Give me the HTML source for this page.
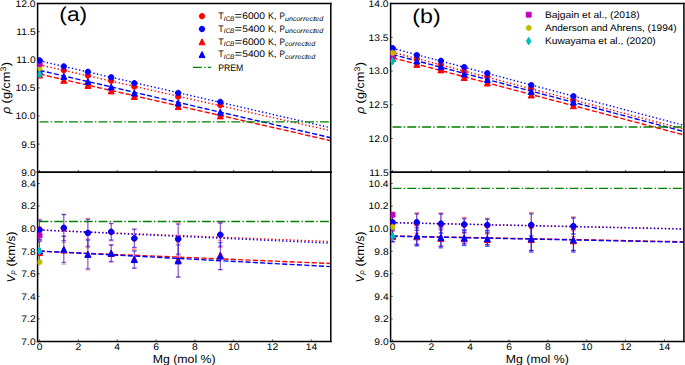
<!DOCTYPE html><html><head><meta charset="utf-8"><style>html,body{margin:0;padding:0;background:#fff;overflow:hidden}svg{display:block}text{text-rendering:geometricPrecision}</style></head><body><svg width="685" height="365" viewBox="0 0 685 365" version="1.1"><defs><style type="text/css">*{stroke-linejoin: round; stroke-linecap: butt}</style></defs><g id="figure_1"><g id="patch_1"><path d="M 0 365  L 685 365  L 685 0  L 0 0  z " style="fill: #ffffff" /></g><g id="axes_1"><g id="patch_2"><path d="M 37.6 172.2  L 330.8 172.2  L 330.8 3.6  L 37.6 3.6  z " style="fill: #ffffff" /></g><g id="line2d_1"><path d="M 39.541722 64.87  L 330.8 130.71  " clip-path="url(#pd544d221bb)" style="fill: none; stroke-dasharray: 1.389,2.29185; stroke-dashoffset: 0; stroke: #ff0000; stroke-width: 1.389" /></g><g id="line2d_2"><path d="M 39.541722 60.83  L 330.8 127.79  " clip-path="url(#pd544d221bb)" style="fill: none; stroke-dasharray: 1.389,2.29185; stroke-dashoffset: 0; stroke: #0000ff; stroke-width: 1.389" /></g><g id="line2d_3"><path d="M 39.541722 74.1  L 330.8 140.7  " clip-path="url(#pd544d221bb)" style="fill: none; stroke-dasharray: 5.1393,2.2224; stroke-dashoffset: 0; stroke: #ff0000; stroke-width: 1.389" /></g><g id="line2d_4"><path d="M 39.541722 70.35  L 330.8 137.72  " clip-path="url(#pd544d221bb)" style="fill: none; stroke-dasharray: 5.1393,2.2224; stroke-dashoffset: 0; stroke: #0000ff; stroke-width: 1.389" /></g><g id="line2d_5"><path d="M 39.541722 121.9  L 330.8 121.9  " clip-path="url(#pd544d221bb)" style="fill: none; stroke-dasharray: 8.9088,2.2272,1.392,2.2272; stroke-dashoffset: 0; stroke: #008000; stroke-width: 1.389" /></g><g id="matplotlib.axis_1"><g id="xtick_1"><g id="line2d_6"><defs><path id="mb3065abcdf" d="M 0 0  L 0 -2.2  " style="stroke: #000000; stroke-width: 0.6" /></defs><g><use href="#mb3065abcdf" x="39.541722" y="172.2" style="stroke: #000000; stroke-width: 0.6" /></g></g></g><g id="xtick_2"><g id="line2d_7"><g><use href="#mb3065abcdf" x="78.376159" y="172.2" style="stroke: #000000; stroke-width: 0.6" /></g></g></g><g id="xtick_3"><g id="line2d_8"><g><use href="#mb3065abcdf" x="117.210596" y="172.2" style="stroke: #000000; stroke-width: 0.6" /></g></g></g><g id="xtick_4"><g id="line2d_9"><g><use href="#mb3065abcdf" x="156.045033" y="172.2" style="stroke: #000000; stroke-width: 0.6" /></g></g></g><g id="xtick_5"><g id="line2d_10"><g><use href="#mb3065abcdf" x="194.87947" y="172.2" style="stroke: #000000; stroke-width: 0.6" /></g></g></g><g id="xtick_6"><g id="line2d_11"><g><use href="#mb3065abcdf" x="233.713907" y="172.2" style="stroke: #000000; stroke-width: 0.6" /></g></g></g><g id="xtick_7"><g id="line2d_12"><g><use href="#mb3065abcdf" x="272.548344" y="172.2" style="stroke: #000000; stroke-width: 0.6" /></g></g></g><g id="xtick_8"><g id="line2d_13"><g><use href="#mb3065abcdf" x="311.382781" y="172.2" style="stroke: #000000; stroke-width: 0.6" /></g></g></g></g><g id="matplotlib.axis_2"><g id="ytick_1"><g id="line2d_14"><defs><path id="m58079cd67e" d="M 0 0  L 2.2 0  " style="stroke: #000000; stroke-width: 0.6" /></defs><g><use href="#m58079cd67e" x="37.6" y="172.2" style="stroke: #000000; stroke-width: 0.6" /></g></g><g id="text_1"><text style="font-size: 9.54px; font-family: 'Liberation Sans', sans-serif; text-anchor: end" transform="translate(35.6 175.619) scale(1.0793 1)">9.0</text></g></g><g id="ytick_2"><g id="line2d_15"><g><use href="#m58079cd67e" x="37.6" y="144.1" style="stroke: #000000; stroke-width: 0.6" /></g></g><g id="text_2"><text style="font-size: 9.54px; font-family: 'Liberation Sans', sans-serif; text-anchor: end" transform="translate(35.6 147.519) scale(1.0793 1)">9.5</text></g></g><g id="ytick_3"><g id="line2d_16"><g><use href="#m58079cd67e" x="37.6" y="116" style="stroke: #000000; stroke-width: 0.6" /></g></g><g id="text_3"><text style="font-size: 9.54px; font-family: 'Liberation Sans', sans-serif; text-anchor: end" transform="translate(35.6 119.419) scale(1.0792 1)">10.0</text></g></g><g id="ytick_4"><g id="line2d_17"><g><use href="#m58079cd67e" x="37.6" y="87.9" style="stroke: #000000; stroke-width: 0.6" /></g></g><g id="text_4"><text style="font-size: 9.54px; font-family: 'Liberation Sans', sans-serif; text-anchor: end" transform="translate(35.6 91.319) scale(1.0792 1)">10.5</text></g></g><g id="ytick_5"><g id="line2d_18"><g><use href="#m58079cd67e" x="37.6" y="59.8" style="stroke: #000000; stroke-width: 0.6" /></g></g><g id="text_5"><text style="font-size: 9.54px; font-family: 'Liberation Sans', sans-serif; text-anchor: end" transform="translate(35.6 63.219) scale(1.0792 1)">11.0</text></g></g><g id="ytick_6"><g id="line2d_19"><g><use href="#m58079cd67e" x="37.6" y="31.7" style="stroke: #000000; stroke-width: 0.6" /></g></g><g id="text_6"><text style="font-size: 9.54px; font-family: 'Liberation Sans', sans-serif; text-anchor: end" transform="translate(35.6 35.119) scale(1.0792 1)">11.5</text></g></g><g id="ytick_7"><g id="line2d_20"><g><use href="#m58079cd67e" x="37.6" y="3.6" style="stroke: #000000; stroke-width: 0.6" /></g></g><g id="text_7"><text style="font-size: 9.54px; font-family: 'Liberation Sans', sans-serif; text-anchor: end" transform="translate(35.6 7.019) scale(1.0792 1)">12.0</text></g></g></g><g id="patch_3"><path d="M 37.6 172.2  L 37.6 3.6  " style="fill: none; stroke: #000000; stroke-width: 1.5; stroke-linejoin: miter; stroke-linecap: square" /></g><g id="patch_4"><path d="M 330.8 172.2  L 330.8 3.6  " style="fill: none; stroke: #000000; stroke-width: 1.5; stroke-linejoin: miter; stroke-linecap: square" /></g><g id="patch_5"><path d="M 37.6 172.2  L 330.8 172.2  " style="fill: none; stroke: #000000; stroke-width: 1.5; stroke-linejoin: miter; stroke-linecap: square" /></g><g id="patch_6"><path d="M 37.6 3.6  L 330.8 3.6  " style="fill: none; stroke: #000000; stroke-width: 1.5; stroke-linejoin: miter; stroke-linecap: square" /></g><g id="line2d_21"><defs><path id="m8ee4669264" d="M 0 2.7  C 0.716048 2.7 1.402866 2.415511 1.909188 1.909188  C 2.415511 1.402866 2.7 0.716048 2.7 0  C 2.7 -0.716048 2.415511 -1.402866 1.909188 -1.909188  C 1.402866 -2.415511 0.716048 -2.7 0 -2.7  C -0.716048 -2.7 -1.402866 -2.415511 -1.909188 -1.909188  C -2.415511 -1.402866 -2.7 -0.716048 -2.7 0  C -2.7 0.716048 -2.415511 1.402866 -1.909188 1.909188  C -1.402866 2.415511 -0.716048 2.7 0 2.7  z " style="stroke: #ff0000" /></defs><g clip-path="url(#pd544d221bb)"><use href="#m8ee4669264" x="39.541722" y="64.9" style="fill: #ff0000; stroke: #ff0000" /><use href="#m8ee4669264" x="63.813245" y="70.3" style="fill: #ff0000; stroke: #ff0000" /><use href="#m8ee4669264" x="87.890596" y="75.6" style="fill: #ff0000; stroke: #ff0000" /><use href="#m8ee4669264" x="111.191258" y="80.8" style="fill: #ff0000; stroke: #ff0000" /><use href="#m8ee4669264" x="134.297748" y="86.7" style="fill: #ff0000; stroke: #ff0000" /><use href="#m8ee4669264" x="178.180662" y="96.7" style="fill: #ff0000; stroke: #ff0000" /><use href="#m8ee4669264" x="220.316026" y="105.3" style="fill: #ff0000; stroke: #ff0000" /></g></g><g id="line2d_22"><defs><path id="m0883bbb580" d="M 0 2.7  C 0.716048 2.7 1.402866 2.415511 1.909188 1.909188  C 2.415511 1.402866 2.7 0.716048 2.7 0  C 2.7 -0.716048 2.415511 -1.402866 1.909188 -1.909188  C 1.402866 -2.415511 0.716048 -2.7 0 -2.7  C -0.716048 -2.7 -1.402866 -2.415511 -1.909188 -1.909188  C -2.415511 -1.402866 -2.7 -0.716048 -2.7 0  C -2.7 0.716048 -2.415511 1.402866 -1.909188 1.909188  C -1.402866 2.415511 -0.716048 2.7 0 2.7  z " style="stroke: #0000ff" /></defs><g clip-path="url(#pd544d221bb)"><use href="#m0883bbb580" x="39.541722" y="60.6" style="fill: #0000ff; stroke: #0000ff" /><use href="#m0883bbb580" x="63.813245" y="66.4" style="fill: #0000ff; stroke: #0000ff" /><use href="#m0883bbb580" x="87.890596" y="71.8" style="fill: #0000ff; stroke: #0000ff" /><use href="#m0883bbb580" x="111.191258" y="77.3" style="fill: #0000ff; stroke: #0000ff" /><use href="#m0883bbb580" x="134.297748" y="83.2" style="fill: #0000ff; stroke: #0000ff" /><use href="#m0883bbb580" x="178.180662" y="93" style="fill: #0000ff; stroke: #0000ff" /><use href="#m0883bbb580" x="220.316026" y="101.9" style="fill: #0000ff; stroke: #0000ff" /></g></g><g id="line2d_23"><defs><path id="m24482ff531" d="M 0 -3  L -3 3  L 3 3  z " style="stroke: #ff0000; stroke-linejoin: miter" /></defs><g clip-path="url(#pd544d221bb)"><use href="#m24482ff531" x="39.541722" y="75" style="fill: #ff0000; stroke: #ff0000; stroke-linejoin: miter" /><use href="#m24482ff531" x="63.813245" y="80.3" style="fill: #ff0000; stroke: #ff0000; stroke-linejoin: miter" /><use href="#m24482ff531" x="87.890596" y="85.4" style="fill: #ff0000; stroke: #ff0000; stroke-linejoin: miter" /><use href="#m24482ff531" x="111.191258" y="90.9" style="fill: #ff0000; stroke: #ff0000; stroke-linejoin: miter" /><use href="#m24482ff531" x="134.297748" y="96.5" style="fill: #ff0000; stroke: #ff0000; stroke-linejoin: miter" /><use href="#m24482ff531" x="178.180662" y="106.6" style="fill: #ff0000; stroke: #ff0000; stroke-linejoin: miter" /><use href="#m24482ff531" x="220.316026" y="115.9" style="fill: #ff0000; stroke: #ff0000; stroke-linejoin: miter" /></g></g><g id="line2d_24"><defs><path id="m69e9f570c5" d="M 0 -3  L -3 3  L 3 3  z " style="stroke: #0000ff; stroke-linejoin: miter" /></defs><g clip-path="url(#pd544d221bb)"><use href="#m69e9f570c5" x="39.541722" y="70.7" style="fill: #0000ff; stroke: #0000ff; stroke-linejoin: miter" /><use href="#m69e9f570c5" x="63.813245" y="76.3" style="fill: #0000ff; stroke: #0000ff; stroke-linejoin: miter" /><use href="#m69e9f570c5" x="87.890596" y="81.6" style="fill: #0000ff; stroke: #0000ff; stroke-linejoin: miter" /><use href="#m69e9f570c5" x="111.191258" y="86.9" style="fill: #0000ff; stroke: #0000ff; stroke-linejoin: miter" /><use href="#m69e9f570c5" x="134.297748" y="93" style="fill: #0000ff; stroke: #0000ff; stroke-linejoin: miter" /><use href="#m69e9f570c5" x="178.180662" y="103" style="fill: #0000ff; stroke: #0000ff; stroke-linejoin: miter" /><use href="#m69e9f570c5" x="220.316026" y="112.2" style="fill: #0000ff; stroke: #0000ff; stroke-linejoin: miter" /></g></g><g id="text_8"><text style="font-size: 20px; font-family: 'Liberation Sans', sans-serif; text-anchor: start" transform="translate(59.297 20.82) scale(1.1398 1)">(a)</text></g><g id="line2d_25"><defs><path id="m0906c53ca1" d="M -0 3.818377  L 2.291026 0  L 0 -3.818377  L -2.291026 -0  z " style="stroke: #00bfbf; stroke-linejoin: miter" /></defs><g clip-path="url(#pd544d221bb)"><use href="#m0906c53ca1" x="39.541722" y="74.5" style="fill: #00bfbf; stroke: #00bfbf; stroke-linejoin: miter" /></g></g><g id="line2d_26"><defs><path id="mf86fa5f61f" d="M 0 -2.7  L -2.338269 -1.35  L -2.338269 1.35  L -0 2.7  L 2.338269 1.35  L 2.338269 -1.35  z " style="stroke: #bfbf00; stroke-linejoin: miter" /></defs><g clip-path="url(#pd544d221bb)"><use href="#mf86fa5f61f" x="39.541722" y="68.5" style="fill: #bfbf00; stroke: #bfbf00; stroke-linejoin: miter" /></g></g><g id="line2d_27"><defs><path id="m8acf0847f7" d="M -2.45 2.45  L 2.45 2.45  L 2.45 -2.45  L -2.45 -2.45  z " style="stroke: #bf00bf; stroke-linejoin: miter" /></defs><g clip-path="url(#pd544d221bb)"><use href="#m8acf0847f7" x="39.541722" y="64" style="fill: #bf00bf; stroke: #bf00bf; stroke-linejoin: miter" /></g></g><g id="line2d_28"><g clip-path="url(#pd544d221bb)"><use href="#m0883bbb580" x="39.541722" y="60.6" style="fill: #0000ff; stroke: #0000ff" /></g></g><g id="legend_1"><g id="line2d_29"><g><use href="#m8ee4669264" x="202" y="16.188594" style="fill: #ff0000; stroke: #ff0000" /></g></g><g id="text_9"><g transform="translate(218.2 19.338594)"><text style="font-size: 9.54px; font-family: 'Liberation Sans', sans-serif" transform="translate(0 -0.312) scale(0.9434 1)">T</text><text style="font-size: 9.54px; font-family: 'Liberation Sans', sans-serif" transform="translate(16.409 -0.312) scale(1.3536 1)">=</text><text style="font-size: 9.54px; font-family: 'Liberation Sans', sans-serif" transform="translate(23.95 -0.312) scale(1.0792 1)">6</text><text style="font-size: 9.54px; font-family: 'Liberation Sans', sans-serif" transform="translate(29.676 -0.312) scale(1.0792 1)">0</text><text style="font-size: 9.54px; font-family: 'Liberation Sans', sans-serif" transform="translate(35.402 -0.312) scale(1.0792 1)">0</text><text style="font-size: 9.54px; font-family: 'Liberation Sans', sans-serif" transform="translate(41.128 -0.312) scale(1.0792 1)">0</text><text style="font-size: 9.54px; font-family: 'Liberation Sans', sans-serif" transform="translate(49.715 -0.312) scale(0.9275 1)">K</text><text style="font-size: 9.54px; font-family: 'Liberation Sans', sans-serif" transform="translate(55.617 -0.312) scale(1.0794 1)">,</text><text style="font-size: 9.54px; font-family: 'Liberation Sans', sans-serif" transform="translate(61.338 -0.312) scale(0.8529 1)">P</text><text style="font-size: 6.678px; font-family: 'Liberation Sans', sans-serif; font-style: italic" transform="translate(5.584 1.164) scale(1.0014 1)">I</text><text style="font-size: 6.678px; font-family: 'Liberation Sans', sans-serif; font-style: italic" transform="translate(7.442 1.164) scale(0.9121 1)">C</text><text style="font-size: 6.678px; font-family: 'Liberation Sans', sans-serif; font-style: italic" transform="translate(11.841 1.164) scale(0.9703 1)">B</text><text style="font-size: 6.678px; font-family: 'Liberation Sans', sans-serif; font-style: italic" transform="translate(66.852 1.164) scale(1.0751 1)">u</text><text style="font-size: 6.678px; font-family: 'Liberation Sans', sans-serif; font-style: italic" transform="translate(70.845 1.164) scale(1.0751 1)">n</text><text style="font-size: 6.678px; font-family: 'Liberation Sans', sans-serif; font-style: italic" transform="translate(74.838 1.164) scale(1.0374 1)">c</text><text style="font-size: 6.678px; font-family: 'Liberation Sans', sans-serif; font-style: italic" transform="translate(78.301 1.164) scale(1.0378 1)">o</text><text style="font-size: 6.678px; font-family: 'Liberation Sans', sans-serif; font-style: italic" transform="translate(82.156 1.164) scale(1.1647 1)">r</text><text style="font-size: 6.678px; font-family: 'Liberation Sans', sans-serif; font-style: italic" transform="translate(84.746 1.164) scale(1.1647 1)">r</text><text style="font-size: 6.678px; font-family: 'Liberation Sans', sans-serif; font-style: italic" transform="translate(87.336 1.164) scale(1.0436 1)">e</text><text style="font-size: 6.678px; font-family: 'Liberation Sans', sans-serif; font-style: italic" transform="translate(91.212 1.164) scale(1.0374 1)">c</text><text style="font-size: 6.678px; font-family: 'Liberation Sans', sans-serif; font-style: italic" transform="translate(94.676 1.164) scale(1.3314 1)">t</text><text style="font-size: 6.678px; font-family: 'Liberation Sans', sans-serif; font-style: italic" transform="translate(97.146 1.164) scale(1.0436 1)">e</text><text style="font-size: 6.678px; font-family: 'Liberation Sans', sans-serif; font-style: italic" transform="translate(101.022 1.164) scale(1.0767 1)">d</text></g></g><g id="line2d_30"><g><use href="#m0883bbb580" x="202" y="28.993906" style="fill: #0000ff; stroke: #0000ff" /></g></g><g id="text_10"><g transform="translate(218.2 32.143906)"><text style="font-size: 9.54px; font-family: 'Liberation Sans', sans-serif" transform="translate(0 -0.312) scale(0.9434 1)">T</text><text style="font-size: 9.54px; font-family: 'Liberation Sans', sans-serif" transform="translate(16.409 -0.312) scale(1.3536 1)">=</text><text style="font-size: 9.54px; font-family: 'Liberation Sans', sans-serif" transform="translate(23.95 -0.312) scale(1.0792 1)">5</text><text style="font-size: 9.54px; font-family: 'Liberation Sans', sans-serif" transform="translate(29.676 -0.312) scale(1.0792 1)">4</text><text style="font-size: 9.54px; font-family: 'Liberation Sans', sans-serif" transform="translate(35.402 -0.312) scale(1.0792 1)">0</text><text style="font-size: 9.54px; font-family: 'Liberation Sans', sans-serif" transform="translate(41.128 -0.312) scale(1.0792 1)">0</text><text style="font-size: 9.54px; font-family: 'Liberation Sans', sans-serif" transform="translate(49.715 -0.312) scale(0.9275 1)">K</text><text style="font-size: 9.54px; font-family: 'Liberation Sans', sans-serif" transform="translate(55.617 -0.312) scale(1.0794 1)">,</text><text style="font-size: 9.54px; font-family: 'Liberation Sans', sans-serif" transform="translate(61.338 -0.312) scale(0.8529 1)">P</text><text style="font-size: 6.678px; font-family: 'Liberation Sans', sans-serif; font-style: italic" transform="translate(5.584 1.164) scale(1.0014 1)">I</text><text style="font-size: 6.678px; font-family: 'Liberation Sans', sans-serif; font-style: italic" transform="translate(7.442 1.164) scale(0.9121 1)">C</text><text style="font-size: 6.678px; font-family: 'Liberation Sans', sans-serif; font-style: italic" transform="translate(11.841 1.164) scale(0.9703 1)">B</text><text style="font-size: 6.678px; font-family: 'Liberation Sans', sans-serif; font-style: italic" transform="translate(66.852 1.164) scale(1.0751 1)">u</text><text style="font-size: 6.678px; font-family: 'Liberation Sans', sans-serif; font-style: italic" transform="translate(70.845 1.164) scale(1.0751 1)">n</text><text style="font-size: 6.678px; font-family: 'Liberation Sans', sans-serif; font-style: italic" transform="translate(74.838 1.164) scale(1.0374 1)">c</text><text style="font-size: 6.678px; font-family: 'Liberation Sans', sans-serif; font-style: italic" transform="translate(78.301 1.164) scale(1.0378 1)">o</text><text style="font-size: 6.678px; font-family: 'Liberation Sans', sans-serif; font-style: italic" transform="translate(82.156 1.164) scale(1.1647 1)">r</text><text style="font-size: 6.678px; font-family: 'Liberation Sans', sans-serif; font-style: italic" transform="translate(84.746 1.164) scale(1.1647 1)">r</text><text style="font-size: 6.678px; font-family: 'Liberation Sans', sans-serif; font-style: italic" transform="translate(87.336 1.164) scale(1.0436 1)">e</text><text style="font-size: 6.678px; font-family: 'Liberation Sans', sans-serif; font-style: italic" transform="translate(91.212 1.164) scale(1.0374 1)">c</text><text style="font-size: 6.678px; font-family: 'Liberation Sans', sans-serif; font-style: italic" transform="translate(94.676 1.164) scale(1.3314 1)">t</text><text style="font-size: 6.678px; font-family: 'Liberation Sans', sans-serif; font-style: italic" transform="translate(97.146 1.164) scale(1.0436 1)">e</text><text style="font-size: 6.678px; font-family: 'Liberation Sans', sans-serif; font-style: italic" transform="translate(101.022 1.164) scale(1.0767 1)">d</text></g></g><g id="line2d_31"><g><use href="#m24482ff531" x="202" y="41.799219" style="fill: #ff0000; stroke: #ff0000; stroke-linejoin: miter" /></g></g><g id="text_11"><g transform="translate(218.2 44.949219)"><text style="font-size: 9.54px; font-family: 'Liberation Sans', sans-serif" transform="translate(0 -0.312) scale(0.9434 1)">T</text><text style="font-size: 9.54px; font-family: 'Liberation Sans', sans-serif" transform="translate(16.409 -0.312) scale(1.3536 1)">=</text><text style="font-size: 9.54px; font-family: 'Liberation Sans', sans-serif" transform="translate(23.95 -0.312) scale(1.0792 1)">6</text><text style="font-size: 9.54px; font-family: 'Liberation Sans', sans-serif" transform="translate(29.676 -0.312) scale(1.0792 1)">0</text><text style="font-size: 9.54px; font-family: 'Liberation Sans', sans-serif" transform="translate(35.402 -0.312) scale(1.0792 1)">0</text><text style="font-size: 9.54px; font-family: 'Liberation Sans', sans-serif" transform="translate(41.128 -0.312) scale(1.0792 1)">0</text><text style="font-size: 9.54px; font-family: 'Liberation Sans', sans-serif" transform="translate(49.715 -0.312) scale(0.9275 1)">K</text><text style="font-size: 9.54px; font-family: 'Liberation Sans', sans-serif" transform="translate(55.617 -0.312) scale(1.0794 1)">,</text><text style="font-size: 9.54px; font-family: 'Liberation Sans', sans-serif" transform="translate(61.338 -0.312) scale(0.8529 1)">P</text><text style="font-size: 6.678px; font-family: 'Liberation Sans', sans-serif; font-style: italic" transform="translate(5.584 1.164) scale(1.0014 1)">I</text><text style="font-size: 6.678px; font-family: 'Liberation Sans', sans-serif; font-style: italic" transform="translate(7.442 1.164) scale(0.9121 1)">C</text><text style="font-size: 6.678px; font-family: 'Liberation Sans', sans-serif; font-style: italic" transform="translate(11.841 1.164) scale(0.9703 1)">B</text><text style="font-size: 6.678px; font-family: 'Liberation Sans', sans-serif; font-style: italic" transform="translate(66.852 1.164) scale(1.0374 1)">c</text><text style="font-size: 6.678px; font-family: 'Liberation Sans', sans-serif; font-style: italic" transform="translate(70.316 1.164) scale(1.0378 1)">o</text><text style="font-size: 6.678px; font-family: 'Liberation Sans', sans-serif; font-style: italic" transform="translate(74.17 1.164) scale(1.1647 1)">r</text><text style="font-size: 6.678px; font-family: 'Liberation Sans', sans-serif; font-style: italic" transform="translate(76.76 1.164) scale(1.1647 1)">r</text><text style="font-size: 6.678px; font-family: 'Liberation Sans', sans-serif; font-style: italic" transform="translate(79.35 1.164) scale(1.0436 1)">e</text><text style="font-size: 6.678px; font-family: 'Liberation Sans', sans-serif; font-style: italic" transform="translate(83.226 1.164) scale(1.0374 1)">c</text><text style="font-size: 6.678px; font-family: 'Liberation Sans', sans-serif; font-style: italic" transform="translate(86.69 1.164) scale(1.3314 1)">t</text><text style="font-size: 6.678px; font-family: 'Liberation Sans', sans-serif; font-style: italic" transform="translate(89.16 1.164) scale(1.0436 1)">e</text><text style="font-size: 6.678px; font-family: 'Liberation Sans', sans-serif; font-style: italic" transform="translate(93.036 1.164) scale(1.0767 1)">d</text></g></g><g id="line2d_32"><g><use href="#m69e9f570c5" x="202" y="54.604531" style="fill: #0000ff; stroke: #0000ff; stroke-linejoin: miter" /></g></g><g id="text_12"><g transform="translate(218.2 57.754531)"><text style="font-size: 9.54px; font-family: 'Liberation Sans', sans-serif" transform="translate(0 -0.312) scale(0.9434 1)">T</text><text style="font-size: 9.54px; font-family: 'Liberation Sans', sans-serif" transform="translate(16.409 -0.312) scale(1.3536 1)">=</text><text style="font-size: 9.54px; font-family: 'Liberation Sans', sans-serif" transform="translate(23.95 -0.312) scale(1.0792 1)">5</text><text style="font-size: 9.54px; font-family: 'Liberation Sans', sans-serif" transform="translate(29.676 -0.312) scale(1.0792 1)">4</text><text style="font-size: 9.54px; font-family: 'Liberation Sans', sans-serif" transform="translate(35.402 -0.312) scale(1.0792 1)">0</text><text style="font-size: 9.54px; font-family: 'Liberation Sans', sans-serif" transform="translate(41.128 -0.312) scale(1.0792 1)">0</text><text style="font-size: 9.54px; font-family: 'Liberation Sans', sans-serif" transform="translate(49.715 -0.312) scale(0.9275 1)">K</text><text style="font-size: 9.54px; font-family: 'Liberation Sans', sans-serif" transform="translate(55.617 -0.312) scale(1.0794 1)">,</text><text style="font-size: 9.54px; font-family: 'Liberation Sans', sans-serif" transform="translate(61.338 -0.312) scale(0.8529 1)">P</text><text style="font-size: 6.678px; font-family: 'Liberation Sans', sans-serif; font-style: italic" transform="translate(5.584 1.164) scale(1.0014 1)">I</text><text style="font-size: 6.678px; font-family: 'Liberation Sans', sans-serif; font-style: italic" transform="translate(7.442 1.164) scale(0.9121 1)">C</text><text style="font-size: 6.678px; font-family: 'Liberation Sans', sans-serif; font-style: italic" transform="translate(11.841 1.164) scale(0.9703 1)">B</text><text style="font-size: 6.678px; font-family: 'Liberation Sans', sans-serif; font-style: italic" transform="translate(66.852 1.164) scale(1.0374 1)">c</text><text style="font-size: 6.678px; font-family: 'Liberation Sans', sans-serif; font-style: italic" transform="translate(70.316 1.164) scale(1.0378 1)">o</text><text style="font-size: 6.678px; font-family: 'Liberation Sans', sans-serif; font-style: italic" transform="translate(74.17 1.164) scale(1.1647 1)">r</text><text style="font-size: 6.678px; font-family: 'Liberation Sans', sans-serif; font-style: italic" transform="translate(76.76 1.164) scale(1.1647 1)">r</text><text style="font-size: 6.678px; font-family: 'Liberation Sans', sans-serif; font-style: italic" transform="translate(79.35 1.164) scale(1.0436 1)">e</text><text style="font-size: 6.678px; font-family: 'Liberation Sans', sans-serif; font-style: italic" transform="translate(83.226 1.164) scale(1.0374 1)">c</text><text style="font-size: 6.678px; font-family: 'Liberation Sans', sans-serif; font-style: italic" transform="translate(86.69 1.164) scale(1.3314 1)">t</text><text style="font-size: 6.678px; font-family: 'Liberation Sans', sans-serif; font-style: italic" transform="translate(89.16 1.164) scale(1.0436 1)">e</text><text style="font-size: 6.678px; font-family: 'Liberation Sans', sans-serif; font-style: italic" transform="translate(93.036 1.164) scale(1.0767 1)">d</text></g></g><g id="line2d_33"><path d="M 193 67.409844  L 202 67.409844  L 211 67.409844  " style="fill: none; stroke-dasharray: 8.9088,2.2272,1.392,2.2272; stroke-dashoffset: 0; stroke: #008000; stroke-width: 1.389" /></g><g id="text_13"><text style="font-size: 9.54px; font-family: 'Liberation Sans', sans-serif; text-anchor: start" transform="translate(218.2 70.56) scale(0.9118 1)">PREM</text></g></g></g><g id="axes_2"><g id="patch_7"><path d="M 37.6 341.5  L 330.8 341.5  L 330.8 172.2  L 37.6 172.2  z " style="fill: #ffffff" /></g><g id="line2d_34"><path d="M 39.541722 230  L 330.8 241.6  " clip-path="url(#p66002b4148)" style="fill: none; stroke-dasharray: 1.389,2.29185; stroke-dashoffset: 0; stroke: #ff0000; stroke-width: 1.389" /></g><g id="line2d_35"><path d="M 39.541722 230  L 330.8 243.2  " clip-path="url(#p66002b4148)" style="fill: none; stroke-dasharray: 1.389,2.29185; stroke-dashoffset: 0; stroke: #0000ff; stroke-width: 1.389" /></g><g id="line2d_36"><path d="M 39.541722 251.3  L 330.8 263.5  " clip-path="url(#p66002b4148)" style="fill: none; stroke-dasharray: 5.1393,2.2224; stroke-dashoffset: 0; stroke: #ff0000; stroke-width: 1.389" /></g><g id="line2d_37"><path d="M 39.541722 251  L 330.8 266.6  " clip-path="url(#p66002b4148)" style="fill: none; stroke-dasharray: 5.1393,2.2224; stroke-dashoffset: 0; stroke: #0000ff; stroke-width: 1.389" /></g><g id="line2d_38"><path d="M 39.541722 221.5  L 330.8 221.5  " clip-path="url(#p66002b4148)" style="fill: none; stroke-dasharray: 8.9088,2.2272,1.392,2.2272; stroke-dashoffset: 0; stroke: #008000; stroke-width: 1.389" /></g><g id="matplotlib.axis_3"><g id="xtick_9"><g id="line2d_39"><g><use href="#mb3065abcdf" x="39.541722" y="341.5" style="stroke: #000000; stroke-width: 0.6" /></g></g><g id="text_14"><text style="font-size: 9.54px; font-family: 'Liberation Sans', sans-serif; text-anchor: middle" transform="translate(39.542 350.339) scale(1.0792 1)">0</text></g></g><g id="xtick_10"><g id="line2d_40"><g><use href="#mb3065abcdf" x="78.376159" y="341.5" style="stroke: #000000; stroke-width: 0.6" /></g></g><g id="text_15"><text style="font-size: 9.54px; font-family: 'Liberation Sans', sans-serif; text-anchor: middle" transform="translate(78.376 350.339) scale(1.0792 1)">2</text></g></g><g id="xtick_11"><g id="line2d_41"><g><use href="#mb3065abcdf" x="117.210596" y="341.5" style="stroke: #000000; stroke-width: 0.6" /></g></g><g id="text_16"><text style="font-size: 9.54px; font-family: 'Liberation Sans', sans-serif; text-anchor: middle" transform="translate(117.211 350.339) scale(1.0792 1)">4</text></g></g><g id="xtick_12"><g id="line2d_42"><g><use href="#mb3065abcdf" x="156.045033" y="341.5" style="stroke: #000000; stroke-width: 0.6" /></g></g><g id="text_17"><text style="font-size: 9.54px; font-family: 'Liberation Sans', sans-serif; text-anchor: middle" transform="translate(156.045 350.339) scale(1.0792 1)">6</text></g></g><g id="xtick_13"><g id="line2d_43"><g><use href="#mb3065abcdf" x="194.87947" y="341.5" style="stroke: #000000; stroke-width: 0.6" /></g></g><g id="text_18"><text style="font-size: 9.54px; font-family: 'Liberation Sans', sans-serif; text-anchor: middle" transform="translate(194.879 350.339) scale(1.0792 1)">8</text></g></g><g id="xtick_14"><g id="line2d_44"><g><use href="#mb3065abcdf" x="233.713907" y="341.5" style="stroke: #000000; stroke-width: 0.6" /></g></g><g id="text_19"><text style="font-size: 9.54px; font-family: 'Liberation Sans', sans-serif; text-anchor: middle" transform="translate(233.714 350.339) scale(1.0792 1)">10</text></g></g><g id="xtick_15"><g id="line2d_45"><g><use href="#mb3065abcdf" x="272.548344" y="341.5" style="stroke: #000000; stroke-width: 0.6" /></g></g><g id="text_20"><text style="font-size: 9.54px; font-family: 'Liberation Sans', sans-serif; text-anchor: middle" transform="translate(272.548 350.339) scale(1.0792 1)">12</text></g></g><g id="xtick_16"><g id="line2d_46"><g><use href="#mb3065abcdf" x="311.382781" y="341.5" style="stroke: #000000; stroke-width: 0.6" /></g></g><g id="text_21"><text style="font-size: 9.54px; font-family: 'Liberation Sans', sans-serif; text-anchor: middle" transform="translate(311.383 350.339) scale(1.0792 1)">14</text></g></g><g id="text_22"><text style="font-size: 11.66px; font-family: 'Liberation Sans', sans-serif; text-anchor: middle" transform="translate(184.2 363.269) scale(1.0571 1)">Mg (mol %)</text></g></g><g id="matplotlib.axis_4"><g id="ytick_8"><g id="line2d_47"><g><use href="#m58079cd67e" x="37.6" y="341.5" style="stroke: #000000; stroke-width: 0.6" /></g></g><g id="text_23"><text style="font-size: 9.54px; font-family: 'Liberation Sans', sans-serif; text-anchor: end" transform="translate(35.6 344.919) scale(1.0793 1)">7.0</text></g></g><g id="ytick_9"><g id="line2d_48"><g><use href="#m58079cd67e" x="37.6" y="318.926667" style="stroke: #000000; stroke-width: 0.6" /></g></g><g id="text_24"><text style="font-size: 9.54px; font-family: 'Liberation Sans', sans-serif; text-anchor: end" transform="translate(35.6 322.346) scale(1.0793 1)">7.2</text></g></g><g id="ytick_10"><g id="line2d_49"><g><use href="#m58079cd67e" x="37.6" y="296.353333" style="stroke: #000000; stroke-width: 0.6" /></g></g><g id="text_25"><text style="font-size: 9.54px; font-family: 'Liberation Sans', sans-serif; text-anchor: end" transform="translate(35.6 299.773) scale(1.0793 1)">7.4</text></g></g><g id="ytick_11"><g id="line2d_50"><g><use href="#m58079cd67e" x="37.6" y="273.78" style="stroke: #000000; stroke-width: 0.6" /></g></g><g id="text_26"><text style="font-size: 9.54px; font-family: 'Liberation Sans', sans-serif; text-anchor: end" transform="translate(35.6 277.199) scale(1.0793 1)">7.6</text></g></g><g id="ytick_12"><g id="line2d_51"><g><use href="#m58079cd67e" x="37.6" y="251.206667" style="stroke: #000000; stroke-width: 0.6" /></g></g><g id="text_27"><text style="font-size: 9.54px; font-family: 'Liberation Sans', sans-serif; text-anchor: end" transform="translate(35.6 254.626) scale(1.0793 1)">7.8</text></g></g><g id="ytick_13"><g id="line2d_52"><g><use href="#m58079cd67e" x="37.6" y="228.633333" style="stroke: #000000; stroke-width: 0.6" /></g></g><g id="text_28"><text style="font-size: 9.54px; font-family: 'Liberation Sans', sans-serif; text-anchor: end" transform="translate(35.6 232.053) scale(1.0793 1)">8.0</text></g></g><g id="ytick_14"><g id="line2d_53"><g><use href="#m58079cd67e" x="37.6" y="206.06" style="stroke: #000000; stroke-width: 0.6" /></g></g><g id="text_29"><text style="font-size: 9.54px; font-family: 'Liberation Sans', sans-serif; text-anchor: end" transform="translate(35.6 209.479) scale(1.0793 1)">8.2</text></g></g><g id="ytick_15"><g id="line2d_54"><g><use href="#m58079cd67e" x="37.6" y="183.486667" style="stroke: #000000; stroke-width: 0.6" /></g></g><g id="text_30"><text style="font-size: 9.54px; font-family: 'Liberation Sans', sans-serif; text-anchor: end" transform="translate(35.6 186.906) scale(1.0793 1)">8.4</text></g></g></g><g id="patch_8"><path d="M 37.6 341.5  L 37.6 172.2  " style="fill: none; stroke: #000000; stroke-width: 1.5; stroke-linejoin: miter; stroke-linecap: square" /></g><g id="patch_9"><path d="M 330.8 341.5  L 330.8 172.2  " style="fill: none; stroke: #000000; stroke-width: 1.5; stroke-linejoin: miter; stroke-linecap: square" /></g><g id="patch_10"><path d="M 37.6 341.5  L 330.8 341.5  " style="fill: none; stroke: #000000; stroke-width: 1.5; stroke-linejoin: miter; stroke-linecap: square" /></g><g id="patch_11"><path d="M 37.6 172.2  L 330.8 172.2  " style="fill: none; stroke: #000000; stroke-width: 1.5; stroke-linejoin: miter; stroke-linecap: square" /></g><g id="LineCollection_1"><path d="M 39.541722 239.76  L 39.541722 219.24  " clip-path="url(#p66002b4148)" style="fill: none; stroke: #ff0000; stroke-opacity: 0.4" /><path d="M 63.813245 242.34  L 63.813245 214.26  " clip-path="url(#p66002b4148)" style="fill: none; stroke: #ff0000; stroke-opacity: 0.4" /><path d="M 87.890596 247.58  L 87.890596 218.42  " clip-path="url(#p66002b4148)" style="fill: none; stroke: #ff0000; stroke-opacity: 0.4" /><path d="M 111.191258 240.856  L 111.191258 223.144  " clip-path="url(#p66002b4148)" style="fill: none; stroke: #ff0000; stroke-opacity: 0.4" /><path d="M 134.297748 248.22  L 134.297748 228.78  " clip-path="url(#p66002b4148)" style="fill: none; stroke: #ff0000; stroke-opacity: 0.4" /><path d="M 178.180662 255.2  L 178.180662 222.8  " clip-path="url(#p66002b4148)" style="fill: none; stroke: #ff0000; stroke-opacity: 0.4" /><path d="M 220.316026 247.42  L 220.316026 222.58  " clip-path="url(#p66002b4148)" style="fill: none; stroke: #ff0000; stroke-opacity: 0.4" /></g><g id="line2d_55"><defs><path id="mb94bff3d53" d="M 2.3 0  L -2.3 -0  " style="stroke: #ff0000; stroke-opacity: 0.4; stroke-width: 1.3" /></defs><g clip-path="url(#p66002b4148)"><use href="#mb94bff3d53" x="39.541722" y="239.76" style="fill: #ff0000; stroke: #ff0000; stroke-opacity: 0.4; stroke-width: 1.3" /><use href="#mb94bff3d53" x="63.813245" y="242.34" style="fill: #ff0000; stroke: #ff0000; stroke-opacity: 0.4; stroke-width: 1.3" /><use href="#mb94bff3d53" x="87.890596" y="247.58" style="fill: #ff0000; stroke: #ff0000; stroke-opacity: 0.4; stroke-width: 1.3" /><use href="#mb94bff3d53" x="111.191258" y="240.856" style="fill: #ff0000; stroke: #ff0000; stroke-opacity: 0.4; stroke-width: 1.3" /><use href="#mb94bff3d53" x="134.297748" y="248.22" style="fill: #ff0000; stroke: #ff0000; stroke-opacity: 0.4; stroke-width: 1.3" /><use href="#mb94bff3d53" x="178.180662" y="255.2" style="fill: #ff0000; stroke: #ff0000; stroke-opacity: 0.4; stroke-width: 1.3" /><use href="#mb94bff3d53" x="220.316026" y="247.42" style="fill: #ff0000; stroke: #ff0000; stroke-opacity: 0.4; stroke-width: 1.3" /></g></g><g id="line2d_56"><g clip-path="url(#p66002b4148)"><use href="#mb94bff3d53" x="39.541722" y="219.24" style="fill: #ff0000; stroke: #ff0000; stroke-opacity: 0.4; stroke-width: 1.3" /><use href="#mb94bff3d53" x="63.813245" y="214.26" style="fill: #ff0000; stroke: #ff0000; stroke-opacity: 0.4; stroke-width: 1.3" /><use href="#mb94bff3d53" x="87.890596" y="218.42" style="fill: #ff0000; stroke: #ff0000; stroke-opacity: 0.4; stroke-width: 1.3" /><use href="#mb94bff3d53" x="111.191258" y="223.144" style="fill: #ff0000; stroke: #ff0000; stroke-opacity: 0.4; stroke-width: 1.3" /><use href="#mb94bff3d53" x="134.297748" y="228.78" style="fill: #ff0000; stroke: #ff0000; stroke-opacity: 0.4; stroke-width: 1.3" /><use href="#mb94bff3d53" x="178.180662" y="222.8" style="fill: #ff0000; stroke: #ff0000; stroke-opacity: 0.4; stroke-width: 1.3" /><use href="#mb94bff3d53" x="220.316026" y="222.58" style="fill: #ff0000; stroke: #ff0000; stroke-opacity: 0.4; stroke-width: 1.3" /></g></g><g id="LineCollection_2"><path d="M 39.541722 263.3  L 39.541722 241.7  " clip-path="url(#p66002b4148)" style="fill: none; stroke: #ff0000; stroke-opacity: 0.4" /><path d="M 63.813245 264.04  L 63.813245 235.96  " clip-path="url(#p66002b4148)" style="fill: none; stroke: #ff0000; stroke-opacity: 0.4" /><path d="M 87.890596 269.944  L 87.890596 239.056  " clip-path="url(#p66002b4148)" style="fill: none; stroke: #ff0000; stroke-opacity: 0.4" /><path d="M 111.191258 262.356  L 111.191258 244.644  " clip-path="url(#p66002b4148)" style="fill: none; stroke: #ff0000; stroke-opacity: 0.4" /><path d="M 134.297748 268.288  L 134.297748 249.712  " clip-path="url(#p66002b4148)" style="fill: none; stroke: #ff0000; stroke-opacity: 0.4" /><path d="M 178.180662 277.28  L 178.180662 242.72  " clip-path="url(#p66002b4148)" style="fill: none; stroke: #ff0000; stroke-opacity: 0.4" /><path d="M 220.316026 269.58  L 220.316026 240.42  " clip-path="url(#p66002b4148)" style="fill: none; stroke: #ff0000; stroke-opacity: 0.4" /></g><g id="line2d_57"><g clip-path="url(#p66002b4148)"><use href="#mb94bff3d53" x="39.541722" y="263.3" style="fill: #ff0000; stroke: #ff0000; stroke-opacity: 0.4; stroke-width: 1.3" /><use href="#mb94bff3d53" x="63.813245" y="264.04" style="fill: #ff0000; stroke: #ff0000; stroke-opacity: 0.4; stroke-width: 1.3" /><use href="#mb94bff3d53" x="87.890596" y="269.944" style="fill: #ff0000; stroke: #ff0000; stroke-opacity: 0.4; stroke-width: 1.3" /><use href="#mb94bff3d53" x="111.191258" y="262.356" style="fill: #ff0000; stroke: #ff0000; stroke-opacity: 0.4; stroke-width: 1.3" /><use href="#mb94bff3d53" x="134.297748" y="268.288" style="fill: #ff0000; stroke: #ff0000; stroke-opacity: 0.4; stroke-width: 1.3" /><use href="#mb94bff3d53" x="178.180662" y="277.28" style="fill: #ff0000; stroke: #ff0000; stroke-opacity: 0.4; stroke-width: 1.3" /><use href="#mb94bff3d53" x="220.316026" y="269.58" style="fill: #ff0000; stroke: #ff0000; stroke-opacity: 0.4; stroke-width: 1.3" /></g></g><g id="line2d_58"><g clip-path="url(#p66002b4148)"><use href="#mb94bff3d53" x="39.541722" y="241.7" style="fill: #ff0000; stroke: #ff0000; stroke-opacity: 0.4; stroke-width: 1.3" /><use href="#mb94bff3d53" x="63.813245" y="235.96" style="fill: #ff0000; stroke: #ff0000; stroke-opacity: 0.4; stroke-width: 1.3" /><use href="#mb94bff3d53" x="87.890596" y="239.056" style="fill: #ff0000; stroke: #ff0000; stroke-opacity: 0.4; stroke-width: 1.3" /><use href="#mb94bff3d53" x="111.191258" y="244.644" style="fill: #ff0000; stroke: #ff0000; stroke-opacity: 0.4; stroke-width: 1.3" /><use href="#mb94bff3d53" x="134.297748" y="249.712" style="fill: #ff0000; stroke: #ff0000; stroke-opacity: 0.4; stroke-width: 1.3" /><use href="#mb94bff3d53" x="178.180662" y="242.72" style="fill: #ff0000; stroke: #ff0000; stroke-opacity: 0.4; stroke-width: 1.3" /><use href="#mb94bff3d53" x="220.316026" y="240.42" style="fill: #ff0000; stroke: #ff0000; stroke-opacity: 0.4; stroke-width: 1.3" /></g></g><g id="line2d_59"><g clip-path="url(#p66002b4148)"><use href="#m8ee4669264" x="39.541722" y="229.5" style="fill: #ff0000; stroke: #ff0000" /><use href="#m8ee4669264" x="63.813245" y="228.3" style="fill: #ff0000; stroke: #ff0000" /><use href="#m8ee4669264" x="87.890596" y="233" style="fill: #ff0000; stroke: #ff0000" /><use href="#m8ee4669264" x="111.191258" y="232" style="fill: #ff0000; stroke: #ff0000" /><use href="#m8ee4669264" x="134.297748" y="238.5" style="fill: #ff0000; stroke: #ff0000" /><use href="#m8ee4669264" x="178.180662" y="239" style="fill: #ff0000; stroke: #ff0000" /><use href="#m8ee4669264" x="220.316026" y="235" style="fill: #ff0000; stroke: #ff0000" /></g></g><g id="line2d_60"><g clip-path="url(#p66002b4148)"><use href="#m24482ff531" x="39.541722" y="252.5" style="fill: #ff0000; stroke: #ff0000; stroke-linejoin: miter" /><use href="#m24482ff531" x="63.813245" y="250" style="fill: #ff0000; stroke: #ff0000; stroke-linejoin: miter" /><use href="#m24482ff531" x="87.890596" y="254.5" style="fill: #ff0000; stroke: #ff0000; stroke-linejoin: miter" /><use href="#m24482ff531" x="111.191258" y="253.5" style="fill: #ff0000; stroke: #ff0000; stroke-linejoin: miter" /><use href="#m24482ff531" x="134.297748" y="259" style="fill: #ff0000; stroke: #ff0000; stroke-linejoin: miter" /><use href="#m24482ff531" x="178.180662" y="260" style="fill: #ff0000; stroke: #ff0000; stroke-linejoin: miter" /><use href="#m24482ff531" x="220.316026" y="255" style="fill: #ff0000; stroke: #ff0000; stroke-linejoin: miter" /></g></g><g id="LineCollection_3"><path d="M 39.541722 239.5  L 39.541722 220.5  " clip-path="url(#p66002b4148)" style="fill: none; stroke: #0000ff; stroke-opacity: 0.55" /><path d="M 63.813245 240.7  L 63.813245 214.7  " clip-path="url(#p66002b4148)" style="fill: none; stroke: #0000ff; stroke-opacity: 0.55" /><path d="M 87.890596 246.4  L 87.890596 219.4  " clip-path="url(#p66002b4148)" style="fill: none; stroke: #0000ff; stroke-opacity: 0.55" /><path d="M 111.191258 240  L 111.191258 223.6  " clip-path="url(#p66002b4148)" style="fill: none; stroke: #0000ff; stroke-opacity: 0.55" /><path d="M 134.297748 247.3  L 134.297748 229.3  " clip-path="url(#p66002b4148)" style="fill: none; stroke: #0000ff; stroke-opacity: 0.55" /><path d="M 178.180662 254.1  L 178.180662 224.1  " clip-path="url(#p66002b4148)" style="fill: none; stroke: #0000ff; stroke-opacity: 0.55" /><path d="M 220.316026 246.2  L 220.316026 223.2  " clip-path="url(#p66002b4148)" style="fill: none; stroke: #0000ff; stroke-opacity: 0.55" /></g><g id="line2d_61"><defs><path id="mb448ac37ba" d="M 2.3 0  L -2.3 -0  " style="stroke: #0000ff; stroke-opacity: 0.55; stroke-width: 1.3" /></defs><g clip-path="url(#p66002b4148)"><use href="#mb448ac37ba" x="39.541722" y="239.5" style="fill: #0000ff; stroke: #0000ff; stroke-opacity: 0.55; stroke-width: 1.3" /><use href="#mb448ac37ba" x="63.813245" y="240.7" style="fill: #0000ff; stroke: #0000ff; stroke-opacity: 0.55; stroke-width: 1.3" /><use href="#mb448ac37ba" x="87.890596" y="246.4" style="fill: #0000ff; stroke: #0000ff; stroke-opacity: 0.55; stroke-width: 1.3" /><use href="#mb448ac37ba" x="111.191258" y="240" style="fill: #0000ff; stroke: #0000ff; stroke-opacity: 0.55; stroke-width: 1.3" /><use href="#mb448ac37ba" x="134.297748" y="247.3" style="fill: #0000ff; stroke: #0000ff; stroke-opacity: 0.55; stroke-width: 1.3" /><use href="#mb448ac37ba" x="178.180662" y="254.1" style="fill: #0000ff; stroke: #0000ff; stroke-opacity: 0.55; stroke-width: 1.3" /><use href="#mb448ac37ba" x="220.316026" y="246.2" style="fill: #0000ff; stroke: #0000ff; stroke-opacity: 0.55; stroke-width: 1.3" /></g></g><g id="line2d_62"><g clip-path="url(#p66002b4148)"><use href="#mb448ac37ba" x="39.541722" y="220.5" style="fill: #0000ff; stroke: #0000ff; stroke-opacity: 0.55; stroke-width: 1.3" /><use href="#mb448ac37ba" x="63.813245" y="214.7" style="fill: #0000ff; stroke: #0000ff; stroke-opacity: 0.55; stroke-width: 1.3" /><use href="#mb448ac37ba" x="87.890596" y="219.4" style="fill: #0000ff; stroke: #0000ff; stroke-opacity: 0.55; stroke-width: 1.3" /><use href="#mb448ac37ba" x="111.191258" y="223.6" style="fill: #0000ff; stroke: #0000ff; stroke-opacity: 0.55; stroke-width: 1.3" /><use href="#mb448ac37ba" x="134.297748" y="229.3" style="fill: #0000ff; stroke: #0000ff; stroke-opacity: 0.55; stroke-width: 1.3" /><use href="#mb448ac37ba" x="178.180662" y="224.1" style="fill: #0000ff; stroke: #0000ff; stroke-opacity: 0.55; stroke-width: 1.3" /><use href="#mb448ac37ba" x="220.316026" y="223.2" style="fill: #0000ff; stroke: #0000ff; stroke-opacity: 0.55; stroke-width: 1.3" /></g></g><g id="LineCollection_4"><path d="M 39.541722 261  L 39.541722 241  " clip-path="url(#p66002b4148)" style="fill: none; stroke: #0000ff; stroke-opacity: 0.55" /><path d="M 63.813245 262.4  L 63.813245 236.4  " clip-path="url(#p66002b4148)" style="fill: none; stroke: #0000ff; stroke-opacity: 0.55" /><path d="M 87.890596 268.6  L 87.890596 240  " clip-path="url(#p66002b4148)" style="fill: none; stroke: #0000ff; stroke-opacity: 0.55" /><path d="M 111.191258 261.4  L 111.191258 245  " clip-path="url(#p66002b4148)" style="fill: none; stroke: #0000ff; stroke-opacity: 0.55" /><path d="M 134.297748 268.2  L 134.297748 251  " clip-path="url(#p66002b4148)" style="fill: none; stroke: #0000ff; stroke-opacity: 0.55" /><path d="M 178.180662 276.9  L 178.180662 244.9  " clip-path="url(#p66002b4148)" style="fill: none; stroke: #0000ff; stroke-opacity: 0.55" /><path d="M 220.316026 269.6  L 220.316026 242.6  " clip-path="url(#p66002b4148)" style="fill: none; stroke: #0000ff; stroke-opacity: 0.55" /></g><g id="line2d_63"><g clip-path="url(#p66002b4148)"><use href="#mb448ac37ba" x="39.541722" y="261" style="fill: #0000ff; stroke: #0000ff; stroke-opacity: 0.55; stroke-width: 1.3" /><use href="#mb448ac37ba" x="63.813245" y="262.4" style="fill: #0000ff; stroke: #0000ff; stroke-opacity: 0.55; stroke-width: 1.3" /><use href="#mb448ac37ba" x="87.890596" y="268.6" style="fill: #0000ff; stroke: #0000ff; stroke-opacity: 0.55; stroke-width: 1.3" /><use href="#mb448ac37ba" x="111.191258" y="261.4" style="fill: #0000ff; stroke: #0000ff; stroke-opacity: 0.55; stroke-width: 1.3" /><use href="#mb448ac37ba" x="134.297748" y="268.2" style="fill: #0000ff; stroke: #0000ff; stroke-opacity: 0.55; stroke-width: 1.3" /><use href="#mb448ac37ba" x="178.180662" y="276.9" style="fill: #0000ff; stroke: #0000ff; stroke-opacity: 0.55; stroke-width: 1.3" /><use href="#mb448ac37ba" x="220.316026" y="269.6" style="fill: #0000ff; stroke: #0000ff; stroke-opacity: 0.55; stroke-width: 1.3" /></g></g><g id="line2d_64"><g clip-path="url(#p66002b4148)"><use href="#mb448ac37ba" x="39.541722" y="241" style="fill: #0000ff; stroke: #0000ff; stroke-opacity: 0.55; stroke-width: 1.3" /><use href="#mb448ac37ba" x="63.813245" y="236.4" style="fill: #0000ff; stroke: #0000ff; stroke-opacity: 0.55; stroke-width: 1.3" /><use href="#mb448ac37ba" x="87.890596" y="240" style="fill: #0000ff; stroke: #0000ff; stroke-opacity: 0.55; stroke-width: 1.3" /><use href="#mb448ac37ba" x="111.191258" y="245" style="fill: #0000ff; stroke: #0000ff; stroke-opacity: 0.55; stroke-width: 1.3" /><use href="#mb448ac37ba" x="134.297748" y="251" style="fill: #0000ff; stroke: #0000ff; stroke-opacity: 0.55; stroke-width: 1.3" /><use href="#mb448ac37ba" x="178.180662" y="244.9" style="fill: #0000ff; stroke: #0000ff; stroke-opacity: 0.55; stroke-width: 1.3" /><use href="#mb448ac37ba" x="220.316026" y="242.6" style="fill: #0000ff; stroke: #0000ff; stroke-opacity: 0.55; stroke-width: 1.3" /></g></g><g id="line2d_65"><g clip-path="url(#p66002b4148)"><use href="#m0883bbb580" x="39.541722" y="230" style="fill: #0000ff; stroke: #0000ff" /><use href="#m0883bbb580" x="63.813245" y="227.7" style="fill: #0000ff; stroke: #0000ff" /><use href="#m0883bbb580" x="87.890596" y="232.9" style="fill: #0000ff; stroke: #0000ff" /><use href="#m0883bbb580" x="111.191258" y="231.8" style="fill: #0000ff; stroke: #0000ff" /><use href="#m0883bbb580" x="134.297748" y="238.3" style="fill: #0000ff; stroke: #0000ff" /><use href="#m0883bbb580" x="178.180662" y="239.1" style="fill: #0000ff; stroke: #0000ff" /><use href="#m0883bbb580" x="220.316026" y="234.7" style="fill: #0000ff; stroke: #0000ff" /></g></g><g id="line2d_66"><g clip-path="url(#p66002b4148)"><use href="#m69e9f570c5" x="39.541722" y="251" style="fill: #0000ff; stroke: #0000ff; stroke-linejoin: miter" /><use href="#m69e9f570c5" x="63.813245" y="249.4" style="fill: #0000ff; stroke: #0000ff; stroke-linejoin: miter" /><use href="#m69e9f570c5" x="87.890596" y="254.3" style="fill: #0000ff; stroke: #0000ff; stroke-linejoin: miter" /><use href="#m69e9f570c5" x="111.191258" y="253.2" style="fill: #0000ff; stroke: #0000ff; stroke-linejoin: miter" /><use href="#m69e9f570c5" x="134.297748" y="259.6" style="fill: #0000ff; stroke: #0000ff; stroke-linejoin: miter" /><use href="#m69e9f570c5" x="178.180662" y="260.9" style="fill: #0000ff; stroke: #0000ff; stroke-linejoin: miter" /><use href="#m69e9f570c5" x="220.316026" y="256.1" style="fill: #0000ff; stroke: #0000ff; stroke-linejoin: miter" /></g></g><g id="line2d_67"><g clip-path="url(#p66002b4148)"><use href="#m8acf0847f7" x="39.541722" y="235.4" style="fill: #bf00bf; stroke: #bf00bf; stroke-linejoin: miter" /></g></g><g id="line2d_68"><g clip-path="url(#p66002b4148)"><use href="#mf86fa5f61f" x="39.541722" y="262.1" style="fill: #bfbf00; stroke: #bfbf00; stroke-linejoin: miter" /></g></g><g id="line2d_69"><g clip-path="url(#p66002b4148)"><use href="#m0906c53ca1" x="39.541722" y="251" style="fill: #00bfbf; stroke: #00bfbf; stroke-linejoin: miter" /></g></g></g><g id="axes_3"><g id="patch_12"><path d="M 390.6 172.2  L 683.9 172.2  L 683.9 3.6  L 390.6 3.6  z " style="fill: #ffffff" /></g><g id="line2d_70"><path d="M 392.542384 52.11  L 683.9 129.11  " clip-path="url(#pfc273ca266)" style="fill: none; stroke-dasharray: 1.389,2.29185; stroke-dashoffset: 0; stroke: #ff0000; stroke-width: 1.389" /></g><g id="line2d_71"><path d="M 392.542384 48.29  L 683.9 125.36  " clip-path="url(#pfc273ca266)" style="fill: none; stroke-dasharray: 1.389,2.29185; stroke-dashoffset: 0; stroke: #0000ff; stroke-width: 1.389" /></g><g id="line2d_72"><path d="M 392.542384 57.75  L 683.9 134.97  " clip-path="url(#pfc273ca266)" style="fill: none; stroke-dasharray: 5.1393,2.2224; stroke-dashoffset: 0; stroke: #ff0000; stroke-width: 1.389" /></g><g id="line2d_73"><path d="M 392.542384 54.45  L 683.9 131.52  " clip-path="url(#pfc273ca266)" style="fill: none; stroke-dasharray: 5.1393,2.2224; stroke-dashoffset: 0; stroke: #0000ff; stroke-width: 1.389" /></g><g id="line2d_74"><path d="M 392.542384 127  L 683.9 127  " clip-path="url(#pfc273ca266)" style="fill: none; stroke-dasharray: 8.9088,2.2272,1.392,2.2272; stroke-dashoffset: 0; stroke: #008000; stroke-width: 1.389" /></g><g id="matplotlib.axis_5"><g id="xtick_17"><g id="line2d_75"><g><use href="#mb3065abcdf" x="392.542384" y="172.2" style="stroke: #000000; stroke-width: 0.6" /></g></g></g><g id="xtick_18"><g id="line2d_76"><g><use href="#mb3065abcdf" x="431.390066" y="172.2" style="stroke: #000000; stroke-width: 0.6" /></g></g></g><g id="xtick_19"><g id="line2d_77"><g><use href="#mb3065abcdf" x="470.237748" y="172.2" style="stroke: #000000; stroke-width: 0.6" /></g></g></g><g id="xtick_20"><g id="line2d_78"><g><use href="#mb3065abcdf" x="509.08543" y="172.2" style="stroke: #000000; stroke-width: 0.6" /></g></g></g><g id="xtick_21"><g id="line2d_79"><g><use href="#mb3065abcdf" x="547.933113" y="172.2" style="stroke: #000000; stroke-width: 0.6" /></g></g></g><g id="xtick_22"><g id="line2d_80"><g><use href="#mb3065abcdf" x="586.780795" y="172.2" style="stroke: #000000; stroke-width: 0.6" /></g></g></g><g id="xtick_23"><g id="line2d_81"><g><use href="#mb3065abcdf" x="625.628477" y="172.2" style="stroke: #000000; stroke-width: 0.6" /></g></g></g><g id="xtick_24"><g id="line2d_82"><g><use href="#mb3065abcdf" x="664.476159" y="172.2" style="stroke: #000000; stroke-width: 0.6" /></g></g></g></g><g id="matplotlib.axis_6"><g id="ytick_16"><g id="line2d_83"><g><use href="#m58079cd67e" x="390.6" y="172.2" style="stroke: #000000; stroke-width: 0.6" /></g></g><g id="text_31"><text style="font-size: 9.54px; font-family: 'Liberation Sans', sans-serif; text-anchor: end" transform="translate(388.6 175.619) scale(1.0792 1)">11.5</text></g></g><g id="ytick_17"><g id="line2d_84"><g><use href="#m58079cd67e" x="390.6" y="138.48" style="stroke: #000000; stroke-width: 0.6" /></g></g><g id="text_32"><text style="font-size: 9.54px; font-family: 'Liberation Sans', sans-serif; text-anchor: end" transform="translate(388.6 141.899) scale(1.0792 1)">12.0</text></g></g><g id="ytick_18"><g id="line2d_85"><g><use href="#m58079cd67e" x="390.6" y="104.76" style="stroke: #000000; stroke-width: 0.6" /></g></g><g id="text_33"><text style="font-size: 9.54px; font-family: 'Liberation Sans', sans-serif; text-anchor: end" transform="translate(388.6 108.179) scale(1.0792 1)">12.5</text></g></g><g id="ytick_19"><g id="line2d_86"><g><use href="#m58079cd67e" x="390.6" y="71.04" style="stroke: #000000; stroke-width: 0.6" /></g></g><g id="text_34"><text style="font-size: 9.54px; font-family: 'Liberation Sans', sans-serif; text-anchor: end" transform="translate(388.6 74.459) scale(1.0792 1)">13.0</text></g></g><g id="ytick_20"><g id="line2d_87"><g><use href="#m58079cd67e" x="390.6" y="37.32" style="stroke: #000000; stroke-width: 0.6" /></g></g><g id="text_35"><text style="font-size: 9.54px; font-family: 'Liberation Sans', sans-serif; text-anchor: end" transform="translate(388.6 40.739) scale(1.0792 1)">13.5</text></g></g><g id="ytick_21"><g id="line2d_88"><g><use href="#m58079cd67e" x="390.6" y="3.6" style="stroke: #000000; stroke-width: 0.6" /></g></g><g id="text_36"><text style="font-size: 9.54px; font-family: 'Liberation Sans', sans-serif; text-anchor: end" transform="translate(388.6 7.019) scale(1.0792 1)">14.0</text></g></g></g><g id="patch_13"><path d="M 390.6 172.2  L 390.6 3.6  " style="fill: none; stroke: #000000; stroke-width: 1.5; stroke-linejoin: miter; stroke-linecap: square" /></g><g id="patch_14"><path d="M 683.9 172.2  L 683.9 3.6  " style="fill: none; stroke: #000000; stroke-width: 1.5; stroke-linejoin: miter; stroke-linecap: square" /></g><g id="patch_15"><path d="M 390.6 172.2  L 683.9 172.2  " style="fill: none; stroke: #000000; stroke-width: 1.5; stroke-linejoin: miter; stroke-linecap: square" /></g><g id="patch_16"><path d="M 390.6 3.6  L 683.9 3.6  " style="fill: none; stroke: #000000; stroke-width: 1.5; stroke-linejoin: miter; stroke-linecap: square" /></g><g id="line2d_89"><g clip-path="url(#pfc273ca266)"><use href="#m8ee4669264" x="392.542384" y="52" style="fill: #ff0000; stroke: #ff0000" /><use href="#m8ee4669264" x="416.822185" y="58.9" style="fill: #ff0000; stroke: #ff0000" /><use href="#m8ee4669264" x="440.907748" y="64.7" style="fill: #ff0000; stroke: #ff0000" /><use href="#m8ee4669264" x="464.216358" y="71.2" style="fill: #ff0000; stroke: #ff0000" /><use href="#m8ee4669264" x="487.330728" y="76.9" style="fill: #ff0000; stroke: #ff0000" /><use href="#m8ee4669264" x="531.228609" y="88.6" style="fill: #ff0000; stroke: #ff0000" /><use href="#m8ee4669264" x="573.378344" y="100.1" style="fill: #ff0000; stroke: #ff0000" /></g></g><g id="line2d_90"><g clip-path="url(#pfc273ca266)"><use href="#m0883bbb580" x="392.542384" y="48.3" style="fill: #0000ff; stroke: #0000ff" /><use href="#m0883bbb580" x="416.822185" y="55.1" style="fill: #0000ff; stroke: #0000ff" /><use href="#m0883bbb580" x="440.907748" y="60.8" style="fill: #0000ff; stroke: #0000ff" /><use href="#m0883bbb580" x="464.216358" y="67.1" style="fill: #0000ff; stroke: #0000ff" /><use href="#m0883bbb580" x="487.330728" y="73.2" style="fill: #0000ff; stroke: #0000ff" /><use href="#m0883bbb580" x="531.228609" y="85.1" style="fill: #0000ff; stroke: #0000ff" /><use href="#m0883bbb580" x="573.378344" y="96.2" style="fill: #0000ff; stroke: #0000ff" /></g></g><g id="line2d_91"><g clip-path="url(#pfc273ca266)"><use href="#m24482ff531" x="392.542384" y="58.2" style="fill: #ff0000; stroke: #ff0000; stroke-linejoin: miter" /><use href="#m24482ff531" x="416.822185" y="64.4" style="fill: #ff0000; stroke: #ff0000; stroke-linejoin: miter" /><use href="#m24482ff531" x="440.907748" y="69.9" style="fill: #ff0000; stroke: #ff0000; stroke-linejoin: miter" /><use href="#m24482ff531" x="464.216358" y="77.5" style="fill: #ff0000; stroke: #ff0000; stroke-linejoin: miter" /><use href="#m24482ff531" x="487.330728" y="83" style="fill: #ff0000; stroke: #ff0000; stroke-linejoin: miter" /><use href="#m24482ff531" x="531.228609" y="95" style="fill: #ff0000; stroke: #ff0000; stroke-linejoin: miter" /><use href="#m24482ff531" x="573.378344" y="105.7" style="fill: #ff0000; stroke: #ff0000; stroke-linejoin: miter" /></g></g><g id="line2d_92"><g clip-path="url(#pfc273ca266)"><use href="#m69e9f570c5" x="392.542384" y="54.5" style="fill: #0000ff; stroke: #0000ff; stroke-linejoin: miter" /><use href="#m69e9f570c5" x="416.822185" y="61" style="fill: #0000ff; stroke: #0000ff; stroke-linejoin: miter" /><use href="#m69e9f570c5" x="440.907748" y="66.6" style="fill: #0000ff; stroke: #0000ff; stroke-linejoin: miter" /><use href="#m69e9f570c5" x="464.216358" y="73.9" style="fill: #0000ff; stroke: #0000ff; stroke-linejoin: miter" /><use href="#m69e9f570c5" x="487.330728" y="79.4" style="fill: #0000ff; stroke: #0000ff; stroke-linejoin: miter" /><use href="#m69e9f570c5" x="531.228609" y="91.4" style="fill: #0000ff; stroke: #0000ff; stroke-linejoin: miter" /><use href="#m69e9f570c5" x="573.378344" y="102.1" style="fill: #0000ff; stroke: #0000ff; stroke-linejoin: miter" /></g></g><g id="text_37"><text style="font-size: 20px; font-family: 'Liberation Sans', sans-serif; text-anchor: start" transform="translate(412.304 22.641) scale(1.1578 1)">(b)</text></g><g id="line2d_93"><g clip-path="url(#pfc273ca266)"><use href="#m0883bbb580" x="392.542384" y="48.3" style="fill: #0000ff; stroke: #0000ff" /></g></g><g id="line2d_94"><g clip-path="url(#pfc273ca266)"><use href="#m8acf0847f7" x="392.542384" y="56.4" style="fill: #bf00bf; stroke: #bf00bf; stroke-linejoin: miter" /></g></g><g id="line2d_95"><g clip-path="url(#pfc273ca266)"><use href="#mf86fa5f61f" x="392.542384" y="52.9" style="fill: #bfbf00; stroke: #bfbf00; stroke-linejoin: miter" /></g></g><g id="line2d_96"><g clip-path="url(#pfc273ca266)"><use href="#m0906c53ca1" x="392.542384" y="61.2" style="fill: #00bfbf; stroke: #00bfbf; stroke-linejoin: miter" /></g></g><g id="legend_2"><g id="line2d_97"><g><use href="#m8acf0847f7" x="528.700477" y="14.688594" style="fill: #bf00bf; stroke: #bf00bf; stroke-linejoin: miter" /></g></g><g id="text_38"><text style="font-size: 9.54px; font-family: 'Liberation Sans', sans-serif; text-anchor: start" transform="translate(544.9 17.839) scale(1.0784 1)">Bajgain et al., (2018)</text></g><g id="line2d_98"><g><use href="#mf86fa5f61f" x="528.700477" y="27.898906" style="fill: #bfbf00; stroke: #bfbf00; stroke-linejoin: miter" /></g></g><g id="text_39"><text style="font-size: 9.54px; font-family: 'Liberation Sans', sans-serif; text-anchor: start" transform="translate(544.9 31.049) scale(1.0587 1)">Anderson and Ahrens, (1994)</text></g><g id="line2d_99"><g><use href="#m0906c53ca1" x="528.700477" y="41.109219" style="fill: #00bfbf; stroke: #00bfbf; stroke-linejoin: miter" /></g></g><g id="text_40"><text style="font-size: 9.54px; font-family: 'Liberation Sans', sans-serif; text-anchor: start" transform="translate(544.9 44.259) scale(1.0727 1)">Kuwayama et al., (2020)</text></g></g></g><g id="axes_4"><g id="patch_17"><path d="M 390.6 341.5  L 683.9 341.5  L 683.9 172.2  L 390.6 172.2  z " style="fill: #ffffff" /></g><g id="line2d_100"><path d="M 392.542384 222.6  L 683.9 228.8  " clip-path="url(#p5b43160dd5)" style="fill: none; stroke-dasharray: 1.389,2.29185; stroke-dashoffset: 0; stroke: #ff0000; stroke-width: 1.389" /></g><g id="line2d_101"><path d="M 392.542384 222.7  L 683.9 229.1  " clip-path="url(#p5b43160dd5)" style="fill: none; stroke-dasharray: 1.389,2.29185; stroke-dashoffset: 0; stroke: #0000ff; stroke-width: 1.389" /></g><g id="line2d_102"><path d="M 392.542384 236  L 683.9 241.8  " clip-path="url(#p5b43160dd5)" style="fill: none; stroke-dasharray: 5.1393,2.2224; stroke-dashoffset: 0; stroke: #ff0000; stroke-width: 1.389" /></g><g id="line2d_103"><path d="M 392.542384 236.2  L 683.9 242.2  " clip-path="url(#p5b43160dd5)" style="fill: none; stroke-dasharray: 5.1393,2.2224; stroke-dashoffset: 0; stroke: #0000ff; stroke-width: 1.389" /></g><g id="line2d_104"><path d="M 392.542384 188.4  L 683.9 188.4  " clip-path="url(#p5b43160dd5)" style="fill: none; stroke-dasharray: 8.9088,2.2272,1.392,2.2272; stroke-dashoffset: 0; stroke: #008000; stroke-width: 1.389" /></g><g id="matplotlib.axis_7"><g id="xtick_25"><g id="line2d_105"><g><use href="#mb3065abcdf" x="392.542384" y="341.5" style="stroke: #000000; stroke-width: 0.6" /></g></g><g id="text_41"><text style="font-size: 9.54px; font-family: 'Liberation Sans', sans-serif; text-anchor: middle" transform="translate(392.542 350.339) scale(1.0792 1)">0</text></g></g><g id="xtick_26"><g id="line2d_106"><g><use href="#mb3065abcdf" x="431.390066" y="341.5" style="stroke: #000000; stroke-width: 0.6" /></g></g><g id="text_42"><text style="font-size: 9.54px; font-family: 'Liberation Sans', sans-serif; text-anchor: middle" transform="translate(431.39 350.339) scale(1.0792 1)">2</text></g></g><g id="xtick_27"><g id="line2d_107"><g><use href="#mb3065abcdf" x="470.237748" y="341.5" style="stroke: #000000; stroke-width: 0.6" /></g></g><g id="text_43"><text style="font-size: 9.54px; font-family: 'Liberation Sans', sans-serif; text-anchor: middle" transform="translate(470.238 350.339) scale(1.0792 1)">4</text></g></g><g id="xtick_28"><g id="line2d_108"><g><use href="#mb3065abcdf" x="509.08543" y="341.5" style="stroke: #000000; stroke-width: 0.6" /></g></g><g id="text_44"><text style="font-size: 9.54px; font-family: 'Liberation Sans', sans-serif; text-anchor: middle" transform="translate(509.085 350.339) scale(1.0792 1)">6</text></g></g><g id="xtick_29"><g id="line2d_109"><g><use href="#mb3065abcdf" x="547.933113" y="341.5" style="stroke: #000000; stroke-width: 0.6" /></g></g><g id="text_45"><text style="font-size: 9.54px; font-family: 'Liberation Sans', sans-serif; text-anchor: middle" transform="translate(547.933 350.339) scale(1.0792 1)">8</text></g></g><g id="xtick_30"><g id="line2d_110"><g><use href="#mb3065abcdf" x="586.780795" y="341.5" style="stroke: #000000; stroke-width: 0.6" /></g></g><g id="text_46"><text style="font-size: 9.54px; font-family: 'Liberation Sans', sans-serif; text-anchor: middle" transform="translate(586.781 350.339) scale(1.0792 1)">10</text></g></g><g id="xtick_31"><g id="line2d_111"><g><use href="#mb3065abcdf" x="625.628477" y="341.5" style="stroke: #000000; stroke-width: 0.6" /></g></g><g id="text_47"><text style="font-size: 9.54px; font-family: 'Liberation Sans', sans-serif; text-anchor: middle" transform="translate(625.628 350.339) scale(1.0792 1)">12</text></g></g><g id="xtick_32"><g id="line2d_112"><g><use href="#mb3065abcdf" x="664.476159" y="341.5" style="stroke: #000000; stroke-width: 0.6" /></g></g><g id="text_48"><text style="font-size: 9.54px; font-family: 'Liberation Sans', sans-serif; text-anchor: middle" transform="translate(664.476 350.339) scale(1.0792 1)">14</text></g></g><g id="text_49"><text style="font-size: 11.66px; font-family: 'Liberation Sans', sans-serif; text-anchor: middle" transform="translate(537.25 363.269) scale(1.0571 1)">Mg (mol %)</text></g></g><g id="matplotlib.axis_8"><g id="ytick_22"><g id="line2d_113"><g><use href="#m58079cd67e" x="390.6" y="341.5" style="stroke: #000000; stroke-width: 0.6" /></g></g><g id="text_50"><text style="font-size: 9.54px; font-family: 'Liberation Sans', sans-serif; text-anchor: end" transform="translate(388.6 344.919) scale(1.0793 1)">9.0</text></g></g><g id="ytick_23"><g id="line2d_114"><g><use href="#m58079cd67e" x="390.6" y="318.926667" style="stroke: #000000; stroke-width: 0.6" /></g></g><g id="text_51"><text style="font-size: 9.54px; font-family: 'Liberation Sans', sans-serif; text-anchor: end" transform="translate(388.6 322.346) scale(1.0793 1)">9.2</text></g></g><g id="ytick_24"><g id="line2d_115"><g><use href="#m58079cd67e" x="390.6" y="296.353333" style="stroke: #000000; stroke-width: 0.6" /></g></g><g id="text_52"><text style="font-size: 9.54px; font-family: 'Liberation Sans', sans-serif; text-anchor: end" transform="translate(388.6 299.773) scale(1.0793 1)">9.4</text></g></g><g id="ytick_25"><g id="line2d_116"><g><use href="#m58079cd67e" x="390.6" y="273.78" style="stroke: #000000; stroke-width: 0.6" /></g></g><g id="text_53"><text style="font-size: 9.54px; font-family: 'Liberation Sans', sans-serif; text-anchor: end" transform="translate(388.6 277.199) scale(1.0793 1)">9.6</text></g></g><g id="ytick_26"><g id="line2d_117"><g><use href="#m58079cd67e" x="390.6" y="251.206667" style="stroke: #000000; stroke-width: 0.6" /></g></g><g id="text_54"><text style="font-size: 9.54px; font-family: 'Liberation Sans', sans-serif; text-anchor: end" transform="translate(388.6 254.626) scale(1.0793 1)">9.8</text></g></g><g id="ytick_27"><g id="line2d_118"><g><use href="#m58079cd67e" x="390.6" y="228.633333" style="stroke: #000000; stroke-width: 0.6" /></g></g><g id="text_55"><text style="font-size: 9.54px; font-family: 'Liberation Sans', sans-serif; text-anchor: end" transform="translate(388.6 232.053) scale(1.0792 1)">10.0</text></g></g><g id="ytick_28"><g id="line2d_119"><g><use href="#m58079cd67e" x="390.6" y="206.06" style="stroke: #000000; stroke-width: 0.6" /></g></g><g id="text_56"><text style="font-size: 9.54px; font-family: 'Liberation Sans', sans-serif; text-anchor: end" transform="translate(388.6 209.479) scale(1.0792 1)">10.2</text></g></g><g id="ytick_29"><g id="line2d_120"><g><use href="#m58079cd67e" x="390.6" y="183.486667" style="stroke: #000000; stroke-width: 0.6" /></g></g><g id="text_57"><text style="font-size: 9.54px; font-family: 'Liberation Sans', sans-serif; text-anchor: end" transform="translate(388.6 186.906) scale(1.0792 1)">10.4</text></g></g></g><g id="patch_18"><path d="M 390.6 341.5  L 390.6 172.2  " style="fill: none; stroke: #000000; stroke-width: 1.5; stroke-linejoin: miter; stroke-linecap: square" /></g><g id="patch_19"><path d="M 683.9 341.5  L 683.9 172.2  " style="fill: none; stroke: #000000; stroke-width: 1.5; stroke-linejoin: miter; stroke-linecap: square" /></g><g id="patch_20"><path d="M 390.6 341.5  L 683.9 341.5  " style="fill: none; stroke: #000000; stroke-width: 1.5; stroke-linejoin: miter; stroke-linecap: square" /></g><g id="patch_21"><path d="M 390.6 172.2  L 683.9 172.2  " style="fill: none; stroke: #000000; stroke-width: 1.5; stroke-linejoin: miter; stroke-linecap: square" /></g><g id="LineCollection_5"><path d="M 392.542384 230.9  L 392.542384 215.1  " clip-path="url(#p5b43160dd5)" style="fill: none; stroke: #ff0000; stroke-opacity: 0.5" /><path d="M 416.822185 233.2  L 416.822185 213  " clip-path="url(#p5b43160dd5)" style="fill: none; stroke: #ff0000; stroke-opacity: 0.5" /><path d="M 440.907748 235.8  L 440.907748 213  " clip-path="url(#p5b43160dd5)" style="fill: none; stroke: #ff0000; stroke-opacity: 0.5" /><path d="M 464.216358 232.3  L 464.216358 217.5  " clip-path="url(#p5b43160dd5)" style="fill: none; stroke: #ff0000; stroke-opacity: 0.5" /><path d="M 487.330728 232.9  L 487.330728 218.1  " clip-path="url(#p5b43160dd5)" style="fill: none; stroke: #ff0000; stroke-opacity: 0.5" /><path d="M 531.228609 238.4  L 531.228609 212.6  " clip-path="url(#p5b43160dd5)" style="fill: none; stroke: #ff0000; stroke-opacity: 0.5" /><path d="M 573.378344 236.7  L 573.378344 216.9  " clip-path="url(#p5b43160dd5)" style="fill: none; stroke: #ff0000; stroke-opacity: 0.5" /></g><g id="line2d_121"><defs><path id="m508e6e80e9" d="M 2.3 0  L -2.3 -0  " style="stroke: #ff0000; stroke-opacity: 0.5; stroke-width: 1.3" /></defs><g clip-path="url(#p5b43160dd5)"><use href="#m508e6e80e9" x="392.542384" y="230.9" style="fill: #ff0000; stroke: #ff0000; stroke-opacity: 0.5; stroke-width: 1.3" /><use href="#m508e6e80e9" x="416.822185" y="233.2" style="fill: #ff0000; stroke: #ff0000; stroke-opacity: 0.5; stroke-width: 1.3" /><use href="#m508e6e80e9" x="440.907748" y="235.8" style="fill: #ff0000; stroke: #ff0000; stroke-opacity: 0.5; stroke-width: 1.3" /><use href="#m508e6e80e9" x="464.216358" y="232.3" style="fill: #ff0000; stroke: #ff0000; stroke-opacity: 0.5; stroke-width: 1.3" /><use href="#m508e6e80e9" x="487.330728" y="232.9" style="fill: #ff0000; stroke: #ff0000; stroke-opacity: 0.5; stroke-width: 1.3" /><use href="#m508e6e80e9" x="531.228609" y="238.4" style="fill: #ff0000; stroke: #ff0000; stroke-opacity: 0.5; stroke-width: 1.3" /><use href="#m508e6e80e9" x="573.378344" y="236.7" style="fill: #ff0000; stroke: #ff0000; stroke-opacity: 0.5; stroke-width: 1.3" /></g></g><g id="line2d_122"><g clip-path="url(#p5b43160dd5)"><use href="#m508e6e80e9" x="392.542384" y="215.1" style="fill: #ff0000; stroke: #ff0000; stroke-opacity: 0.5; stroke-width: 1.3" /><use href="#m508e6e80e9" x="416.822185" y="213" style="fill: #ff0000; stroke: #ff0000; stroke-opacity: 0.5; stroke-width: 1.3" /><use href="#m508e6e80e9" x="440.907748" y="213" style="fill: #ff0000; stroke: #ff0000; stroke-opacity: 0.5; stroke-width: 1.3" /><use href="#m508e6e80e9" x="464.216358" y="217.5" style="fill: #ff0000; stroke: #ff0000; stroke-opacity: 0.5; stroke-width: 1.3" /><use href="#m508e6e80e9" x="487.330728" y="218.1" style="fill: #ff0000; stroke: #ff0000; stroke-opacity: 0.5; stroke-width: 1.3" /><use href="#m508e6e80e9" x="531.228609" y="212.6" style="fill: #ff0000; stroke: #ff0000; stroke-opacity: 0.5; stroke-width: 1.3" /><use href="#m508e6e80e9" x="573.378344" y="216.9" style="fill: #ff0000; stroke: #ff0000; stroke-opacity: 0.5; stroke-width: 1.3" /></g></g><g id="LineCollection_6"><path d="M 392.542384 242  L 392.542384 231  " clip-path="url(#p5b43160dd5)" style="fill: none; stroke: #ff0000; stroke-opacity: 0.45" /><path d="M 416.822185 245  L 416.822185 228.6  " clip-path="url(#p5b43160dd5)" style="fill: none; stroke: #ff0000; stroke-opacity: 0.45" /><path d="M 440.907748 246.5  L 440.907748 230.3  " clip-path="url(#p5b43160dd5)" style="fill: none; stroke: #ff0000; stroke-opacity: 0.45" /><path d="M 464.216358 244.2  L 464.216358 233.4  " clip-path="url(#p5b43160dd5)" style="fill: none; stroke: #ff0000; stroke-opacity: 0.45" /><path d="M 487.330728 245  L 487.330728 234.2  " clip-path="url(#p5b43160dd5)" style="fill: none; stroke: #ff0000; stroke-opacity: 0.45" /><path d="M 531.228609 250.6  L 531.228609 228.6  " clip-path="url(#p5b43160dd5)" style="fill: none; stroke: #ff0000; stroke-opacity: 0.45" /><path d="M 573.378344 250.7  L 573.378344 230.9  " clip-path="url(#p5b43160dd5)" style="fill: none; stroke: #ff0000; stroke-opacity: 0.45" /></g><g id="line2d_123"><defs><path id="mf3eab8106e" d="M 2.3 0  L -2.3 -0  " style="stroke: #ff0000; stroke-opacity: 0.45; stroke-width: 1.3" /></defs><g clip-path="url(#p5b43160dd5)"><use href="#mf3eab8106e" x="392.542384" y="242" style="fill: #ff0000; stroke: #ff0000; stroke-opacity: 0.45; stroke-width: 1.3" /><use href="#mf3eab8106e" x="416.822185" y="245" style="fill: #ff0000; stroke: #ff0000; stroke-opacity: 0.45; stroke-width: 1.3" /><use href="#mf3eab8106e" x="440.907748" y="246.5" style="fill: #ff0000; stroke: #ff0000; stroke-opacity: 0.45; stroke-width: 1.3" /><use href="#mf3eab8106e" x="464.216358" y="244.2" style="fill: #ff0000; stroke: #ff0000; stroke-opacity: 0.45; stroke-width: 1.3" /><use href="#mf3eab8106e" x="487.330728" y="245" style="fill: #ff0000; stroke: #ff0000; stroke-opacity: 0.45; stroke-width: 1.3" /><use href="#mf3eab8106e" x="531.228609" y="250.6" style="fill: #ff0000; stroke: #ff0000; stroke-opacity: 0.45; stroke-width: 1.3" /><use href="#mf3eab8106e" x="573.378344" y="250.7" style="fill: #ff0000; stroke: #ff0000; stroke-opacity: 0.45; stroke-width: 1.3" /></g></g><g id="line2d_124"><g clip-path="url(#p5b43160dd5)"><use href="#mf3eab8106e" x="392.542384" y="231" style="fill: #ff0000; stroke: #ff0000; stroke-opacity: 0.45; stroke-width: 1.3" /><use href="#mf3eab8106e" x="416.822185" y="228.6" style="fill: #ff0000; stroke: #ff0000; stroke-opacity: 0.45; stroke-width: 1.3" /><use href="#mf3eab8106e" x="440.907748" y="230.3" style="fill: #ff0000; stroke: #ff0000; stroke-opacity: 0.45; stroke-width: 1.3" /><use href="#mf3eab8106e" x="464.216358" y="233.4" style="fill: #ff0000; stroke: #ff0000; stroke-opacity: 0.45; stroke-width: 1.3" /><use href="#mf3eab8106e" x="487.330728" y="234.2" style="fill: #ff0000; stroke: #ff0000; stroke-opacity: 0.45; stroke-width: 1.3" /><use href="#mf3eab8106e" x="531.228609" y="228.6" style="fill: #ff0000; stroke: #ff0000; stroke-opacity: 0.45; stroke-width: 1.3" /><use href="#mf3eab8106e" x="573.378344" y="230.9" style="fill: #ff0000; stroke: #ff0000; stroke-opacity: 0.45; stroke-width: 1.3" /></g></g><g id="LineCollection_7"><path d="M 416.822185 246.2  L 416.822185 225.4  " clip-path="url(#p5b43160dd5)" style="fill: none; stroke: #0000ff; stroke-opacity: 0.6" /><path d="M 440.907748 247.8  L 440.907748 227.2  " clip-path="url(#p5b43160dd5)" style="fill: none; stroke: #0000ff; stroke-opacity: 0.6" /><path d="M 464.216358 245.6  L 464.216358 230.4  " clip-path="url(#p5b43160dd5)" style="fill: none; stroke: #0000ff; stroke-opacity: 0.6" /><path d="M 487.330728 246.4  L 487.330728 231.2  " clip-path="url(#p5b43160dd5)" style="fill: none; stroke: #0000ff; stroke-opacity: 0.6" /><path d="M 531.228609 252  L 531.228609 225.6  " clip-path="url(#p5b43160dd5)" style="fill: none; stroke: #0000ff; stroke-opacity: 0.6" /><path d="M 573.378344 252  L 573.378344 227.8  " clip-path="url(#p5b43160dd5)" style="fill: none; stroke: #0000ff; stroke-opacity: 0.6" /></g><g id="line2d_125"><defs><path id="m32e9bbe23a" d="M 2.3 0  L -2.3 -0  " style="stroke: #0000ff; stroke-opacity: 0.6; stroke-width: 1.3" /></defs><g clip-path="url(#p5b43160dd5)"><use href="#m32e9bbe23a" x="416.822185" y="246.2" style="fill: #1f77b4; stroke: #0000ff; stroke-opacity: 0.6; stroke-width: 1.3" /><use href="#m32e9bbe23a" x="440.907748" y="247.8" style="fill: #1f77b4; stroke: #0000ff; stroke-opacity: 0.6; stroke-width: 1.3" /><use href="#m32e9bbe23a" x="464.216358" y="245.6" style="fill: #1f77b4; stroke: #0000ff; stroke-opacity: 0.6; stroke-width: 1.3" /><use href="#m32e9bbe23a" x="487.330728" y="246.4" style="fill: #1f77b4; stroke: #0000ff; stroke-opacity: 0.6; stroke-width: 1.3" /><use href="#m32e9bbe23a" x="531.228609" y="252" style="fill: #1f77b4; stroke: #0000ff; stroke-opacity: 0.6; stroke-width: 1.3" /><use href="#m32e9bbe23a" x="573.378344" y="252" style="fill: #1f77b4; stroke: #0000ff; stroke-opacity: 0.6; stroke-width: 1.3" /></g></g><g id="line2d_126"><g clip-path="url(#p5b43160dd5)"><use href="#m32e9bbe23a" x="416.822185" y="225.4" style="fill: #1f77b4; stroke: #0000ff; stroke-opacity: 0.6; stroke-width: 1.3" /><use href="#m32e9bbe23a" x="440.907748" y="227.2" style="fill: #1f77b4; stroke: #0000ff; stroke-opacity: 0.6; stroke-width: 1.3" /><use href="#m32e9bbe23a" x="464.216358" y="230.4" style="fill: #1f77b4; stroke: #0000ff; stroke-opacity: 0.6; stroke-width: 1.3" /><use href="#m32e9bbe23a" x="487.330728" y="231.2" style="fill: #1f77b4; stroke: #0000ff; stroke-opacity: 0.6; stroke-width: 1.3" /><use href="#m32e9bbe23a" x="531.228609" y="225.6" style="fill: #1f77b4; stroke: #0000ff; stroke-opacity: 0.6; stroke-width: 1.3" /><use href="#m32e9bbe23a" x="573.378344" y="227.8" style="fill: #1f77b4; stroke: #0000ff; stroke-opacity: 0.6; stroke-width: 1.3" /></g></g><g id="line2d_127"><g clip-path="url(#p5b43160dd5)"><use href="#m8ee4669264" x="392.542384" y="223" style="fill: #ff0000; stroke: #ff0000" /><use href="#m8ee4669264" x="416.822185" y="223.1" style="fill: #ff0000; stroke: #ff0000" /><use href="#m8ee4669264" x="440.907748" y="224.4" style="fill: #ff0000; stroke: #ff0000" /><use href="#m8ee4669264" x="464.216358" y="224.9" style="fill: #ff0000; stroke: #ff0000" /><use href="#m8ee4669264" x="487.330728" y="225.5" style="fill: #ff0000; stroke: #ff0000" /><use href="#m8ee4669264" x="531.228609" y="225.5" style="fill: #ff0000; stroke: #ff0000" /><use href="#m8ee4669264" x="573.378344" y="226.8" style="fill: #ff0000; stroke: #ff0000" /></g></g><g id="line2d_128"><g clip-path="url(#p5b43160dd5)"><use href="#m24482ff531" x="392.542384" y="236.5" style="fill: #ff0000; stroke: #ff0000; stroke-linejoin: miter" /><use href="#m24482ff531" x="416.822185" y="236.8" style="fill: #ff0000; stroke: #ff0000; stroke-linejoin: miter" /><use href="#m24482ff531" x="440.907748" y="238.4" style="fill: #ff0000; stroke: #ff0000; stroke-linejoin: miter" /><use href="#m24482ff531" x="464.216358" y="238.8" style="fill: #ff0000; stroke: #ff0000; stroke-linejoin: miter" /><use href="#m24482ff531" x="487.330728" y="239.6" style="fill: #ff0000; stroke: #ff0000; stroke-linejoin: miter" /><use href="#m24482ff531" x="531.228609" y="239.6" style="fill: #ff0000; stroke: #ff0000; stroke-linejoin: miter" /><use href="#m24482ff531" x="573.378344" y="240.8" style="fill: #ff0000; stroke: #ff0000; stroke-linejoin: miter" /></g></g><g id="LineCollection_8"><path d="M 392.542384 228.1  L 392.542384 216.1  " clip-path="url(#p5b43160dd5)" style="fill: none; stroke: #0000ff; stroke-opacity: 0.65" /><path d="M 416.822185 230.3  L 416.822185 213.9  " clip-path="url(#p5b43160dd5)" style="fill: none; stroke: #0000ff; stroke-opacity: 0.65" /><path d="M 440.907748 233  L 440.907748 214  " clip-path="url(#p5b43160dd5)" style="fill: none; stroke: #0000ff; stroke-opacity: 0.65" /><path d="M 464.216358 229.8  L 464.216358 218.8  " clip-path="url(#p5b43160dd5)" style="fill: none; stroke: #0000ff; stroke-opacity: 0.65" /><path d="M 487.330728 230.4  L 487.330728 219.4  " clip-path="url(#p5b43160dd5)" style="fill: none; stroke: #0000ff; stroke-opacity: 0.65" /><path d="M 531.228609 235.9  L 531.228609 213.9  " clip-path="url(#p5b43160dd5)" style="fill: none; stroke: #0000ff; stroke-opacity: 0.65" /><path d="M 573.378344 234  L 573.378344 218  " clip-path="url(#p5b43160dd5)" style="fill: none; stroke: #0000ff; stroke-opacity: 0.65" /></g><g id="line2d_129"><defs><path id="mf07426a626" d="M 2.3 0  L -2.3 -0  " style="stroke: #0000ff; stroke-opacity: 0.65; stroke-width: 1.3" /></defs><g clip-path="url(#p5b43160dd5)"><use href="#mf07426a626" x="392.542384" y="228.1" style="fill: #0000ff; stroke: #0000ff; stroke-opacity: 0.65; stroke-width: 1.3" /><use href="#mf07426a626" x="416.822185" y="230.3" style="fill: #0000ff; stroke: #0000ff; stroke-opacity: 0.65; stroke-width: 1.3" /><use href="#mf07426a626" x="440.907748" y="233" style="fill: #0000ff; stroke: #0000ff; stroke-opacity: 0.65; stroke-width: 1.3" /><use href="#mf07426a626" x="464.216358" y="229.8" style="fill: #0000ff; stroke: #0000ff; stroke-opacity: 0.65; stroke-width: 1.3" /><use href="#mf07426a626" x="487.330728" y="230.4" style="fill: #0000ff; stroke: #0000ff; stroke-opacity: 0.65; stroke-width: 1.3" /><use href="#mf07426a626" x="531.228609" y="235.9" style="fill: #0000ff; stroke: #0000ff; stroke-opacity: 0.65; stroke-width: 1.3" /><use href="#mf07426a626" x="573.378344" y="234" style="fill: #0000ff; stroke: #0000ff; stroke-opacity: 0.65; stroke-width: 1.3" /></g></g><g id="line2d_130"><g clip-path="url(#p5b43160dd5)"><use href="#mf07426a626" x="392.542384" y="216.1" style="fill: #0000ff; stroke: #0000ff; stroke-opacity: 0.65; stroke-width: 1.3" /><use href="#mf07426a626" x="416.822185" y="213.9" style="fill: #0000ff; stroke: #0000ff; stroke-opacity: 0.65; stroke-width: 1.3" /><use href="#mf07426a626" x="440.907748" y="214" style="fill: #0000ff; stroke: #0000ff; stroke-opacity: 0.65; stroke-width: 1.3" /><use href="#mf07426a626" x="464.216358" y="218.8" style="fill: #0000ff; stroke: #0000ff; stroke-opacity: 0.65; stroke-width: 1.3" /><use href="#mf07426a626" x="487.330728" y="219.4" style="fill: #0000ff; stroke: #0000ff; stroke-opacity: 0.65; stroke-width: 1.3" /><use href="#mf07426a626" x="531.228609" y="213.9" style="fill: #0000ff; stroke: #0000ff; stroke-opacity: 0.65; stroke-width: 1.3" /><use href="#mf07426a626" x="573.378344" y="218" style="fill: #0000ff; stroke: #0000ff; stroke-opacity: 0.65; stroke-width: 1.3" /></g></g><g id="LineCollection_9"><path d="M 392.542384 241.5  L 392.542384 229.5  " clip-path="url(#p5b43160dd5)" style="fill: none; stroke: #0000ff; stroke-opacity: 0.65" /><path d="M 416.822185 244.5  L 416.822185 227.1  " clip-path="url(#p5b43160dd5)" style="fill: none; stroke: #0000ff; stroke-opacity: 0.65" /><path d="M 440.907748 246.1  L 440.907748 228.9  " clip-path="url(#p5b43160dd5)" style="fill: none; stroke: #0000ff; stroke-opacity: 0.65" /><path d="M 464.216358 243.9  L 464.216358 232.1  " clip-path="url(#p5b43160dd5)" style="fill: none; stroke: #0000ff; stroke-opacity: 0.65" /><path d="M 487.330728 244.7  L 487.330728 232.9  " clip-path="url(#p5b43160dd5)" style="fill: none; stroke: #0000ff; stroke-opacity: 0.65" /><path d="M 531.228609 250.3  L 531.228609 227.3  " clip-path="url(#p5b43160dd5)" style="fill: none; stroke: #0000ff; stroke-opacity: 0.65" /><path d="M 573.378344 250.3  L 573.378344 229.5  " clip-path="url(#p5b43160dd5)" style="fill: none; stroke: #0000ff; stroke-opacity: 0.65" /></g><g id="line2d_131"><g clip-path="url(#p5b43160dd5)"><use href="#mf07426a626" x="392.542384" y="241.5" style="fill: #0000ff; stroke: #0000ff; stroke-opacity: 0.65; stroke-width: 1.3" /><use href="#mf07426a626" x="416.822185" y="244.5" style="fill: #0000ff; stroke: #0000ff; stroke-opacity: 0.65; stroke-width: 1.3" /><use href="#mf07426a626" x="440.907748" y="246.1" style="fill: #0000ff; stroke: #0000ff; stroke-opacity: 0.65; stroke-width: 1.3" /><use href="#mf07426a626" x="464.216358" y="243.9" style="fill: #0000ff; stroke: #0000ff; stroke-opacity: 0.65; stroke-width: 1.3" /><use href="#mf07426a626" x="487.330728" y="244.7" style="fill: #0000ff; stroke: #0000ff; stroke-opacity: 0.65; stroke-width: 1.3" /><use href="#mf07426a626" x="531.228609" y="250.3" style="fill: #0000ff; stroke: #0000ff; stroke-opacity: 0.65; stroke-width: 1.3" /><use href="#mf07426a626" x="573.378344" y="250.3" style="fill: #0000ff; stroke: #0000ff; stroke-opacity: 0.65; stroke-width: 1.3" /></g></g><g id="line2d_132"><g clip-path="url(#p5b43160dd5)"><use href="#mf07426a626" x="392.542384" y="229.5" style="fill: #0000ff; stroke: #0000ff; stroke-opacity: 0.65; stroke-width: 1.3" /><use href="#mf07426a626" x="416.822185" y="227.1" style="fill: #0000ff; stroke: #0000ff; stroke-opacity: 0.65; stroke-width: 1.3" /><use href="#mf07426a626" x="440.907748" y="228.9" style="fill: #0000ff; stroke: #0000ff; stroke-opacity: 0.65; stroke-width: 1.3" /><use href="#mf07426a626" x="464.216358" y="232.1" style="fill: #0000ff; stroke: #0000ff; stroke-opacity: 0.65; stroke-width: 1.3" /><use href="#mf07426a626" x="487.330728" y="232.9" style="fill: #0000ff; stroke: #0000ff; stroke-opacity: 0.65; stroke-width: 1.3" /><use href="#mf07426a626" x="531.228609" y="227.3" style="fill: #0000ff; stroke: #0000ff; stroke-opacity: 0.65; stroke-width: 1.3" /><use href="#mf07426a626" x="573.378344" y="229.5" style="fill: #0000ff; stroke: #0000ff; stroke-opacity: 0.65; stroke-width: 1.3" /></g></g><g id="line2d_133"><g clip-path="url(#p5b43160dd5)"><use href="#m0883bbb580" x="392.542384" y="222.1" style="fill: #0000ff; stroke: #0000ff" /><use href="#m0883bbb580" x="416.822185" y="222.1" style="fill: #0000ff; stroke: #0000ff" /><use href="#m0883bbb580" x="440.907748" y="223.5" style="fill: #0000ff; stroke: #0000ff" /><use href="#m0883bbb580" x="464.216358" y="224.3" style="fill: #0000ff; stroke: #0000ff" /><use href="#m0883bbb580" x="487.330728" y="224.9" style="fill: #0000ff; stroke: #0000ff" /><use href="#m0883bbb580" x="531.228609" y="224.9" style="fill: #0000ff; stroke: #0000ff" /><use href="#m0883bbb580" x="573.378344" y="226" style="fill: #0000ff; stroke: #0000ff" /></g></g><g id="line2d_134"><g clip-path="url(#p5b43160dd5)"><use href="#m69e9f570c5" x="392.542384" y="235.5" style="fill: #0000ff; stroke: #0000ff; stroke-linejoin: miter" /><use href="#m69e9f570c5" x="416.822185" y="235.8" style="fill: #0000ff; stroke: #0000ff; stroke-linejoin: miter" /><use href="#m69e9f570c5" x="440.907748" y="237.5" style="fill: #0000ff; stroke: #0000ff; stroke-linejoin: miter" /><use href="#m69e9f570c5" x="464.216358" y="238" style="fill: #0000ff; stroke: #0000ff; stroke-linejoin: miter" /><use href="#m69e9f570c5" x="487.330728" y="238.8" style="fill: #0000ff; stroke: #0000ff; stroke-linejoin: miter" /><use href="#m69e9f570c5" x="531.228609" y="238.8" style="fill: #0000ff; stroke: #0000ff; stroke-linejoin: miter" /><use href="#m69e9f570c5" x="573.378344" y="239.9" style="fill: #0000ff; stroke: #0000ff; stroke-linejoin: miter" /></g></g><g id="line2d_135"><g clip-path="url(#p5b43160dd5)"><use href="#m8acf0847f7" x="392.542384" y="214.7" style="fill: #bf00bf; stroke: #bf00bf; stroke-linejoin: miter" /></g></g><g id="line2d_136"><g clip-path="url(#p5b43160dd5)"><use href="#mf86fa5f61f" x="392.542384" y="227" style="fill: #bfbf00; stroke: #bfbf00; stroke-linejoin: miter" /></g></g><g id="line2d_137"><g clip-path="url(#p5b43160dd5)"><use href="#m0906c53ca1" x="392.542384" y="236.6" style="fill: #00bfbf; stroke: #00bfbf; stroke-linejoin: miter" /></g></g></g><g id="text_58"><g transform="translate(10.2 113.86) rotate(-90)"><text style="font-size: 11.66px; font-family: 'Liberation Sans', sans-serif; font-style: italic" transform="translate(0 -0.069) scale(1.0455 1)">ρ</text><text style="font-size: 11.66px; font-family: 'Liberation Sans', sans-serif" transform="translate(10.479 -0.069) scale(1.1052 1)">(</text><text style="font-size: 11.66px; font-family: 'Liberation Sans', sans-serif" transform="translate(14.771 -0.069) scale(1.0767 1)">g</text><text style="font-size: 11.66px; font-family: 'Liberation Sans', sans-serif" transform="translate(21.753 -0.069) scale(1.1440 1)">/</text><text style="font-size: 11.66px; font-family: 'Liberation Sans', sans-serif" transform="translate(25.459 -0.069) scale(1.0374 1)">c</text><text style="font-size: 11.66px; font-family: 'Liberation Sans', sans-serif" transform="translate(31.507 -0.069) scale(1.1032 1)">m</text><text style="font-size: 11.66px; font-family: 'Liberation Sans', sans-serif" transform="translate(47.527 -0.069) scale(1.1052 1)">)</text><text style="font-size: 8.162px; font-family: 'Liberation Sans', sans-serif" transform="translate(42.327 -4.28) scale(1.0792 1)">3</text></g></g><g id="text_59"><g transform="translate(16 282.425) rotate(-90)"><text style="font-size: 11.66px; font-family: 'Liberation Sans', sans-serif; font-style: italic" transform="translate(0 -0.641) scale(0.9676 1)">V</text><text style="font-size: 8.162px; font-family: 'Liberation Sans', sans-serif; font-style: italic" transform="translate(7.525 1.164) scale(0.8529 1)">P</text><text style="font-size: 11.66px; font-family: 'Liberation Sans', sans-serif" transform="translate(15.966 -0.641) scale(1.1052 1)">(</text><text style="font-size: 11.66px; font-family: 'Liberation Sans', sans-serif" transform="translate(20.257 -0.641) scale(1.0926 1)">k</text><text style="font-size: 11.66px; font-family: 'Liberation Sans', sans-serif" transform="translate(26.627 -0.641) scale(1.1032 1)">m</text><text style="font-size: 11.66px; font-family: 'Liberation Sans', sans-serif" transform="translate(37.343 -0.641) scale(1.1440 1)">/</text><text style="font-size: 11.66px; font-family: 'Liberation Sans', sans-serif" transform="translate(41.049 -0.641) scale(0.9830 1)">s</text><text style="font-size: 11.66px; font-family: 'Liberation Sans', sans-serif" transform="translate(46.78 -0.641) scale(1.1052 1)">)</text></g></g><g id="text_60"><g transform="translate(364.2 113.86) rotate(-90)"><text style="font-size: 11.66px; font-family: 'Liberation Sans', sans-serif; font-style: italic" transform="translate(0 -0.069) scale(1.0455 1)">ρ</text><text style="font-size: 11.66px; font-family: 'Liberation Sans', sans-serif" transform="translate(10.479 -0.069) scale(1.1052 1)">(</text><text style="font-size: 11.66px; font-family: 'Liberation Sans', sans-serif" transform="translate(14.771 -0.069) scale(1.0767 1)">g</text><text style="font-size: 11.66px; font-family: 'Liberation Sans', sans-serif" transform="translate(21.753 -0.069) scale(1.1440 1)">/</text><text style="font-size: 11.66px; font-family: 'Liberation Sans', sans-serif" transform="translate(25.459 -0.069) scale(1.0374 1)">c</text><text style="font-size: 11.66px; font-family: 'Liberation Sans', sans-serif" transform="translate(31.507 -0.069) scale(1.1032 1)">m</text><text style="font-size: 11.66px; font-family: 'Liberation Sans', sans-serif" transform="translate(47.527 -0.069) scale(1.1052 1)">)</text><text style="font-size: 8.162px; font-family: 'Liberation Sans', sans-serif" transform="translate(42.327 -4.28) scale(1.0792 1)">3</text></g></g><g id="text_61"><g transform="translate(364.6 282.425) rotate(-90)"><text style="font-size: 11.66px; font-family: 'Liberation Sans', sans-serif; font-style: italic" transform="translate(0 -0.641) scale(0.9676 1)">V</text><text style="font-size: 8.162px; font-family: 'Liberation Sans', sans-serif; font-style: italic" transform="translate(7.525 1.164) scale(0.8529 1)">P</text><text style="font-size: 11.66px; font-family: 'Liberation Sans', sans-serif" transform="translate(15.966 -0.641) scale(1.1052 1)">(</text><text style="font-size: 11.66px; font-family: 'Liberation Sans', sans-serif" transform="translate(20.257 -0.641) scale(1.0926 1)">k</text><text style="font-size: 11.66px; font-family: 'Liberation Sans', sans-serif" transform="translate(26.627 -0.641) scale(1.1032 1)">m</text><text style="font-size: 11.66px; font-family: 'Liberation Sans', sans-serif" transform="translate(37.343 -0.641) scale(1.1440 1)">/</text><text style="font-size: 11.66px; font-family: 'Liberation Sans', sans-serif" transform="translate(41.049 -0.641) scale(0.9830 1)">s</text><text style="font-size: 11.66px; font-family: 'Liberation Sans', sans-serif" transform="translate(46.78 -0.641) scale(1.1052 1)">)</text></g></g></g><defs><clipPath id="pd544d221bb"><rect x="37.6" y="3.6" width="293.2" height="168.6" /></clipPath><clipPath id="p66002b4148"><rect x="37.6" y="172.2" width="293.2" height="169.3" /></clipPath><clipPath id="pfc273ca266"><rect x="390.6" y="3.6" width="293.3" height="168.6" /></clipPath><clipPath id="p5b43160dd5"><rect x="390.6" y="172.2" width="293.3" height="169.3" /></clipPath></defs></svg></body></html>
